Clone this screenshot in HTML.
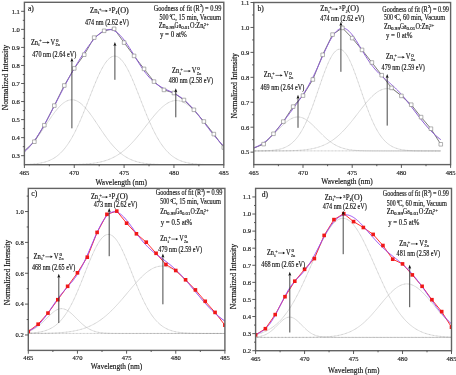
<!DOCTYPE html>
<html><head><meta charset="utf-8"><style>
html,body{margin:0;padding:0;background:#fff;}
svg{display:block;will-change:transform;}
text{font-family:"Liberation Serif", serif;stroke:#111;stroke-width:0.15px;}
</style></head><body>
<svg width="456" height="375" viewBox="0 0 456 375">
<rect width="456" height="375" fill="#fff"/>
<clipPath id="ca"><rect x="24.4" y="2.3" width="199.4" height="162.39999999999998"/></clipPath>
<g clip-path="url(#ca)" fill="none" stroke="#8c8c8c" stroke-width="0.5" stroke-dasharray="0.9,0.5"><path d="M24.40,152.07 L25.40,151.18 L26.39,150.25 L27.39,149.28 L28.39,148.26 L29.39,147.21 L30.38,146.11 L31.38,144.97 L32.38,143.79 L33.37,142.58 L34.37,141.32 L35.37,140.04 L36.36,138.71 L37.36,137.36 L38.36,135.98 L39.36,134.57 L40.35,133.14 L41.35,131.69 L42.35,130.22 L43.34,128.74 L44.34,127.25 L45.34,125.76 L46.33,124.26 L47.33,122.77 L48.33,121.28 L49.33,119.81 L50.32,118.35 L51.32,116.92 L52.32,115.51 L53.31,114.13 L54.31,112.79 L55.31,111.49 L56.30,110.24 L57.30,109.04 L58.30,107.90 L59.30,106.81 L60.29,105.79 L61.29,104.84 L62.29,103.96 L63.28,103.16 L64.28,102.43 L65.28,101.79 L66.27,101.24 L67.27,100.77 L68.27,100.39 L69.27,100.10 L70.26,99.91 L71.26,99.80 L72.26,99.80 L73.25,99.88 L74.25,100.06 L75.25,100.33 L76.24,100.69 L77.24,101.15 L78.24,101.69 L79.24,102.32 L80.23,103.03 L81.23,103.81 L82.23,104.68 L83.22,105.62 L84.22,106.63 L85.22,107.70 L86.21,108.84 L87.21,110.03 L88.21,111.27 L89.21,112.56 L90.20,113.90 L91.20,115.27 L92.20,116.67 L93.19,118.10 L94.19,119.55 L95.19,121.02 L96.18,122.51 L97.18,124.00 L98.18,125.50 L99.18,126.99 L100.17,128.49 L101.17,129.97 L102.17,131.44 L103.16,132.89 L104.16,134.33 L105.16,135.74 L106.15,137.12 L107.15,138.48 L108.15,139.81 L109.15,141.10 L110.14,142.36 L111.14,143.58 L112.14,144.77 L113.13,145.91 L114.13,147.02 L115.13,148.08 L116.12,149.10 L117.12,150.09 L118.12,151.02 L119.12,151.92 L120.11,152.78 L121.11,153.59 L122.11,154.37 L123.10,155.10 L124.10,155.79 L125.10,156.45 L126.09,157.07 L127.09,157.65 L128.09,158.20 L129.09,158.71 L130.08,159.19 L131.08,159.64 L132.08,160.06 L133.07,160.46 L134.07,160.82 L135.07,161.16 L136.06,161.47 L137.06,161.76 L138.06,162.03 L139.06,162.28 L140.05,162.50 L141.05,162.71 L142.05,162.90 L143.04,163.08 L144.04,163.24 L145.04,163.39 L146.03,163.52 L147.03,163.64 L148.03,163.75 L149.03,163.85 L150.02,163.94 L151.02,164.03 L152.02,164.10 L153.01,164.17 L154.01,164.23 L155.01,164.28 L156.00,164.33 L157.00,164.37 L158.00,164.41 L159.00,164.45 L159.99,164.48 L160.99,164.51 L161.99,164.53 L162.98,164.55 L163.98,164.57 L164.98,164.59 L165.97,164.60 L166.97,164.62 L167.97,164.63 L168.97,164.64 L169.96,164.65 L170.96,164.66 L171.96,164.66 L172.95,164.67 L173.95,164.67 L174.95,164.68 L175.94,164.68 L176.94,164.69 L177.94,164.69 L178.94,164.69 L179.93,164.69 L180.93,164.70 L181.93,164.70 L182.92,164.70 L183.92,164.70 L184.92,164.70 L185.91,164.70 L186.91,164.70 L187.91,164.70 L188.91,164.70 L189.90,164.70 L190.90,164.70 L191.90,164.71 L192.89,164.71 L193.89,164.71 L194.89,164.71 L195.88,164.71 L196.88,164.71 L197.88,164.71 L198.88,164.71 L199.87,164.71 L200.87,164.71 L201.87,164.71 L202.86,164.71 L203.86,164.71 L204.86,164.71 L205.85,164.71 L206.85,164.71 L207.85,164.71 L208.85,164.71 L209.84,164.71 L210.84,164.71 L211.84,164.71 L212.83,164.71 L213.83,164.71 L214.83,164.71 L215.82,164.71 L216.82,164.71 L217.82,164.71 L218.82,164.71 L219.81,164.71 L220.81,164.71 L221.81,164.71 L222.80,164.71 L223.80,164.71"/><path d="M24.40,164.49 L25.40,164.46 L26.39,164.42 L27.39,164.38 L28.39,164.33 L29.39,164.28 L30.38,164.22 L31.38,164.15 L32.38,164.08 L33.37,164.00 L34.37,163.90 L35.37,163.80 L36.36,163.69 L37.36,163.56 L38.36,163.42 L39.36,163.26 L40.35,163.08 L41.35,162.89 L42.35,162.68 L43.34,162.45 L44.34,162.19 L45.34,161.91 L46.33,161.60 L47.33,161.26 L48.33,160.89 L49.33,160.49 L50.32,160.06 L51.32,159.58 L52.32,159.07 L53.31,158.52 L54.31,157.92 L55.31,157.27 L56.30,156.58 L57.30,155.83 L58.30,155.03 L59.30,154.17 L60.29,153.26 L61.29,152.28 L62.29,151.24 L63.28,150.14 L64.28,148.97 L65.28,147.73 L66.27,146.42 L67.27,145.05 L68.27,143.59 L69.27,142.07 L70.26,140.47 L71.26,138.80 L72.26,137.06 L73.25,135.24 L74.25,133.36 L75.25,131.40 L76.24,129.37 L77.24,127.28 L78.24,125.12 L79.24,122.90 L80.23,120.62 L81.23,118.29 L82.23,115.91 L83.22,113.49 L84.22,111.03 L85.22,108.53 L86.21,106.01 L87.21,103.47 L88.21,100.91 L89.21,98.35 L90.20,95.79 L91.20,93.23 L92.20,90.70 L93.19,88.19 L94.19,85.72 L95.19,83.29 L96.18,80.91 L97.18,78.59 L98.18,76.35 L99.18,74.18 L100.17,72.10 L101.17,70.11 L102.17,68.23 L103.16,66.46 L104.16,64.81 L105.16,63.28 L106.15,61.89 L107.15,60.64 L108.15,59.53 L109.15,58.57 L110.14,57.76 L111.14,57.11 L112.14,56.62 L113.13,56.29 L114.13,56.12 L115.13,56.12 L116.12,56.29 L117.12,56.62 L118.12,57.11 L119.12,57.75 L120.11,58.56 L121.11,59.52 L122.11,60.63 L123.10,61.88 L124.10,63.27 L125.10,64.80 L126.09,66.45 L127.09,68.22 L128.09,70.10 L129.09,72.08 L130.08,74.16 L131.08,76.33 L132.08,78.58 L133.07,80.89 L134.07,83.27 L135.07,85.70 L136.06,88.17 L137.06,90.68 L138.06,93.22 L139.06,95.77 L140.05,98.33 L141.05,100.89 L142.05,103.45 L143.04,105.99 L144.04,108.52 L145.04,111.01 L146.03,113.47 L147.03,115.90 L148.03,118.28 L149.03,120.61 L150.02,122.88 L151.02,125.10 L152.02,127.26 L153.01,129.36 L154.01,131.38 L155.01,133.34 L156.00,135.23 L157.00,137.05 L158.00,138.79 L159.00,140.46 L159.99,142.06 L160.99,143.58 L161.99,145.04 L162.98,146.41 L163.98,147.72 L164.98,148.96 L165.97,150.13 L166.97,151.24 L167.97,152.28 L168.97,153.25 L169.96,154.17 L170.96,155.02 L171.96,155.83 L172.95,156.57 L173.95,157.27 L174.95,157.91 L175.94,158.51 L176.94,159.07 L177.94,159.58 L178.94,160.06 L179.93,160.49 L180.93,160.89 L181.93,161.26 L182.92,161.60 L183.92,161.91 L184.92,162.19 L185.91,162.44 L186.91,162.68 L187.91,162.89 L188.91,163.08 L189.90,163.26 L190.90,163.42 L191.90,163.56 L192.89,163.69 L193.89,163.80 L194.89,163.90 L195.88,164.00 L196.88,164.08 L197.88,164.15 L198.88,164.22 L199.87,164.28 L200.87,164.33 L201.87,164.38 L202.86,164.42 L203.86,164.46 L204.86,164.49 L205.85,164.52 L206.85,164.54 L207.85,164.56 L208.85,164.58 L209.84,164.60 L210.84,164.61 L211.84,164.63 L212.83,164.64 L213.83,164.65 L214.83,164.66 L215.82,164.66 L216.82,164.67 L217.82,164.67 L218.82,164.68 L219.81,164.68 L220.81,164.69 L221.81,164.69 L222.80,164.69 L223.80,164.69"/><path d="M24.40,164.71 L25.40,164.71 L26.39,164.71 L27.39,164.71 L28.39,164.71 L29.39,164.71 L30.38,164.71 L31.38,164.71 L32.38,164.71 L33.37,164.71 L34.37,164.71 L35.37,164.71 L36.36,164.71 L37.36,164.71 L38.36,164.71 L39.36,164.70 L40.35,164.70 L41.35,164.70 L42.35,164.70 L43.34,164.70 L44.34,164.70 L45.34,164.70 L46.33,164.70 L47.33,164.70 L48.33,164.70 L49.33,164.70 L50.32,164.70 L51.32,164.70 L52.32,164.69 L53.31,164.69 L54.31,164.69 L55.31,164.69 L56.30,164.68 L57.30,164.68 L58.30,164.68 L59.30,164.67 L60.29,164.67 L61.29,164.66 L62.29,164.66 L63.28,164.65 L64.28,164.64 L65.28,164.63 L66.27,164.62 L67.27,164.61 L68.27,164.60 L69.27,164.59 L70.26,164.57 L71.26,164.56 L72.26,164.54 L73.25,164.52 L74.25,164.50 L75.25,164.47 L76.24,164.45 L77.24,164.42 L78.24,164.38 L79.24,164.35 L80.23,164.30 L81.23,164.26 L82.23,164.21 L83.22,164.16 L84.22,164.10 L85.22,164.04 L86.21,163.96 L87.21,163.89 L88.21,163.80 L89.21,163.71 L90.20,163.62 L91.20,163.51 L92.20,163.39 L93.19,163.27 L94.19,163.13 L95.19,162.98 L96.18,162.82 L97.18,162.65 L98.18,162.46 L99.18,162.27 L100.17,162.05 L101.17,161.82 L102.17,161.58 L103.16,161.31 L104.16,161.03 L105.16,160.73 L106.15,160.41 L107.15,160.07 L108.15,159.71 L109.15,159.32 L110.14,158.91 L111.14,158.48 L112.14,158.03 L113.13,157.54 L114.13,157.03 L115.13,156.50 L116.12,155.93 L117.12,155.34 L118.12,154.72 L119.12,154.07 L120.11,153.38 L121.11,152.67 L122.11,151.93 L123.10,151.15 L124.10,150.35 L125.10,149.51 L126.09,148.64 L127.09,147.74 L128.09,146.81 L129.09,145.85 L130.08,144.86 L131.08,143.84 L132.08,142.79 L133.07,141.72 L134.07,140.61 L135.07,139.49 L136.06,138.34 L137.06,137.16 L138.06,135.97 L139.06,134.75 L140.05,133.52 L141.05,132.28 L142.05,131.02 L143.04,129.75 L144.04,128.47 L145.04,127.19 L146.03,125.90 L147.03,124.62 L148.03,123.33 L149.03,122.05 L150.02,120.78 L151.02,119.53 L152.02,118.28 L153.01,117.06 L154.01,115.85 L155.01,114.67 L156.00,113.52 L157.00,112.40 L158.00,111.31 L159.00,110.26 L159.99,109.24 L160.99,108.28 L161.99,107.35 L162.98,106.48 L163.98,105.66 L164.98,104.89 L165.97,104.17 L166.97,103.52 L167.97,102.92 L168.97,102.39 L169.96,101.92 L170.96,101.52 L171.96,101.19 L172.95,100.92 L173.95,100.72 L174.95,100.59 L175.94,100.53 L176.94,100.54 L177.94,100.62 L178.94,100.77 L179.93,100.99 L180.93,101.28 L181.93,101.64 L182.92,102.06 L183.92,102.55 L184.92,103.10 L185.91,103.71 L186.91,104.39 L187.91,105.12 L188.91,105.90 L189.90,106.74 L190.90,107.63 L191.90,108.57 L192.89,109.55 L193.89,110.58 L194.89,111.64 L195.88,112.74 L196.88,113.87 L197.88,115.03 L198.88,116.22 L199.87,117.43 L200.87,118.67 L201.87,119.91 L202.86,121.18 L203.86,122.45 L204.86,123.73 L205.85,125.01 L206.85,126.30 L207.85,127.59 L208.85,128.87 L209.84,130.14 L210.84,131.41 L211.84,132.67 L212.83,133.91 L213.83,135.13 L214.83,136.34 L215.82,137.53 L216.82,138.69 L217.82,139.84 L218.82,140.96 L219.81,142.05 L220.81,143.12 L221.81,144.16 L222.80,145.17 L223.80,146.15"/></g>
<g clip-path="url(#ca)" fill="none" stroke-linejoin="round">
<path d="M24.40,150.90 L34.37,141.70 L44.34,125.20 L54.31,105.60 L64.28,85.50 L74.25,68.40 L84.22,54.70 L94.19,37.60 L104.16,30.80 L114.13,28.80 L124.10,42.60 L134.07,55.90 L144.04,68.90 L154.01,81.60 L163.98,89.90 L173.95,93.00 L183.92,100.00 L193.89,109.80 L203.86,121.50 L213.83,134.10 L223.80,147.50" stroke="#444" stroke-width="0.7"/>
<path d="M24.40,151.85 L25.40,150.93 L26.39,149.96 L27.39,148.95 L28.39,147.89 L29.39,146.78 L30.38,145.62 L31.38,144.42 L32.38,143.16 L33.37,141.87 L34.37,140.52 L35.37,139.13 L36.36,137.69 L37.36,136.21 L38.36,134.69 L39.36,133.12 L40.35,131.52 L41.35,129.87 L42.35,128.19 L43.34,126.48 L44.34,124.73 L45.34,122.95 L46.33,121.15 L47.33,119.32 L48.33,117.46 L49.33,115.59 L50.32,113.69 L51.32,111.78 L52.32,109.86 L53.31,107.93 L54.31,105.99 L55.31,104.04 L56.30,102.09 L57.30,100.14 L58.30,98.19 L59.30,96.24 L60.29,94.30 L61.29,92.37 L62.29,90.45 L63.28,88.53 L64.28,86.63 L65.28,84.74 L66.27,82.87 L67.27,81.01 L68.27,79.17 L69.27,77.35 L70.26,75.54 L71.26,73.75 L72.26,71.98 L73.25,70.23 L74.25,68.50 L75.25,66.79 L76.24,65.10 L77.24,63.43 L78.24,61.78 L79.24,60.15 L80.23,58.54 L81.23,56.95 L82.23,55.39 L83.22,53.86 L84.22,52.34 L85.22,50.86 L86.21,49.40 L87.21,47.97 L88.21,46.57 L89.21,45.21 L90.20,43.88 L91.20,42.59 L92.20,41.35 L93.19,40.14 L94.19,38.99 L95.19,37.88 L96.18,36.83 L97.18,35.83 L98.18,34.90 L99.18,34.02 L100.17,33.22 L101.17,32.49 L102.17,31.83 L103.16,31.25 L104.16,30.75 L105.16,30.34 L106.15,30.01 L107.15,29.78 L108.15,29.63 L109.15,29.58 L110.14,29.62 L111.14,29.76 L112.14,30.00 L113.13,30.33 L114.13,30.76 L115.13,31.29 L116.12,31.91 L117.12,32.63 L118.12,33.43 L119.12,34.33 L120.11,35.31 L121.11,36.37 L122.11,37.51 L123.10,38.72 L124.10,40.00 L125.10,41.34 L126.09,42.75 L127.09,44.20 L128.09,45.70 L129.09,47.23 L130.08,48.81 L131.08,50.40 L132.08,52.02 L133.07,53.65 L134.07,55.29 L135.07,56.93 L136.06,58.57 L137.06,60.19 L138.06,61.80 L139.06,63.38 L140.05,64.94 L141.05,66.47 L142.05,67.96 L143.04,69.41 L144.04,70.81 L145.04,72.17 L146.03,73.48 L147.03,74.74 L148.03,75.95 L149.03,77.10 L150.02,78.20 L151.02,79.24 L152.02,80.23 L153.01,81.17 L154.01,82.05 L155.01,82.88 L156.00,83.67 L157.00,84.40 L158.00,85.10 L159.00,85.75 L159.99,86.37 L160.99,86.95 L161.99,87.51 L162.98,88.03 L163.98,88.54 L164.98,89.02 L165.97,89.49 L166.97,89.96 L167.97,90.41 L168.97,90.87 L169.96,91.32 L170.96,91.79 L171.96,92.26 L172.95,92.75 L173.95,93.25 L174.95,93.77 L175.94,94.31 L176.94,94.88 L177.94,95.48 L178.94,96.11 L179.93,96.76 L180.93,97.46 L181.93,98.18 L182.92,98.94 L183.92,99.74 L184.92,100.58 L185.91,101.45 L186.91,102.35 L187.91,103.30 L188.91,104.28 L189.90,105.29 L190.90,106.34 L191.90,107.42 L192.89,108.53 L193.89,109.67 L194.89,110.84 L195.88,112.03 L196.88,113.24 L197.88,114.48 L198.88,115.73 L199.87,117.01 L200.87,118.29 L201.87,119.58 L202.86,120.89 L203.86,122.20 L204.86,123.51 L205.85,124.82 L206.85,126.13 L207.85,127.44 L208.85,128.74 L209.84,130.03 L210.84,131.32 L211.84,132.58 L212.83,133.84 L213.83,135.07 L214.83,136.29 L215.82,137.48 L216.82,138.66 L217.82,139.81 L218.82,140.93 L219.81,142.03 L220.81,143.10 L221.81,144.14 L222.80,145.16 L223.80,146.14" stroke="#8f5ed8" stroke-width="1.0"/>
<rect x="32.57" y="139.90" width="3.6" height="3.6" fill="#fff" stroke="#808080" stroke-width="0.6"/>
<rect x="42.54" y="123.40" width="3.6" height="3.6" fill="#fff" stroke="#808080" stroke-width="0.6"/>
<rect x="52.51" y="103.80" width="3.6" height="3.6" fill="#fff" stroke="#808080" stroke-width="0.6"/>
<rect x="62.48" y="83.70" width="3.6" height="3.6" fill="#fff" stroke="#808080" stroke-width="0.6"/>
<rect x="72.45" y="66.60" width="3.6" height="3.6" fill="#fff" stroke="#808080" stroke-width="0.6"/>
<rect x="82.42" y="52.90" width="3.6" height="3.6" fill="#fff" stroke="#808080" stroke-width="0.6"/>
<rect x="92.39" y="35.80" width="3.6" height="3.6" fill="#fff" stroke="#808080" stroke-width="0.6"/>
<rect x="102.36" y="29.00" width="3.6" height="3.6" fill="#fff" stroke="#808080" stroke-width="0.6"/>
<rect x="112.33" y="27.00" width="3.6" height="3.6" fill="#fff" stroke="#808080" stroke-width="0.6"/>
<rect x="122.30" y="40.80" width="3.6" height="3.6" fill="#fff" stroke="#808080" stroke-width="0.6"/>
<rect x="132.27" y="54.10" width="3.6" height="3.6" fill="#fff" stroke="#808080" stroke-width="0.6"/>
<rect x="142.24" y="67.10" width="3.6" height="3.6" fill="#fff" stroke="#808080" stroke-width="0.6"/>
<rect x="152.21" y="79.80" width="3.6" height="3.6" fill="#fff" stroke="#808080" stroke-width="0.6"/>
<rect x="162.18" y="88.10" width="3.6" height="3.6" fill="#fff" stroke="#808080" stroke-width="0.6"/>
<rect x="172.15" y="91.20" width="3.6" height="3.6" fill="#fff" stroke="#808080" stroke-width="0.6"/>
<rect x="182.12" y="98.20" width="3.6" height="3.6" fill="#fff" stroke="#808080" stroke-width="0.6"/>
<rect x="192.09" y="108.00" width="3.6" height="3.6" fill="#fff" stroke="#808080" stroke-width="0.6"/>
<rect x="202.06" y="119.70" width="3.6" height="3.6" fill="#fff" stroke="#808080" stroke-width="0.6"/>
<rect x="212.03" y="132.30" width="3.6" height="3.6" fill="#fff" stroke="#808080" stroke-width="0.6"/>
<rect x="222.00" y="145.70" width="3.6" height="3.6" fill="#fff" stroke="#808080" stroke-width="0.6"/>
</g>
<path d="M71.90,128.30 L71.90,60.70" stroke="#333" stroke-width="0.9"/>
<path d="M70.40,61.70 L71.90,57.70 L73.40,61.70 L71.90,61.00 Z" fill="#111"/>
<path d="M114.90,79.80 L114.90,45.00" stroke="#333" stroke-width="0.9"/>
<path d="M113.40,46.00 L114.90,42.00 L116.40,46.00 L114.90,45.30 Z" fill="#111"/>
<path d="M175.80,117.30 L175.80,91.20" stroke="#333" stroke-width="0.9"/>
<path d="M174.30,92.20 L175.80,88.20 L177.30,92.20 L175.80,91.50 Z" fill="#111"/>
<rect x="24.4" y="2.3" width="199.4" height="162.39999999999998" fill="none" stroke="#636363" stroke-width="1.4"/>
<path d="M21.10,155.68 L24.40,155.68 M21.10,137.63 L24.40,137.63 M21.10,119.59 L24.40,119.59 M21.10,101.54 L24.40,101.54 M21.10,83.50 L24.40,83.50 M21.10,65.46 L24.40,65.46 M21.10,47.41 L24.40,47.41 M21.10,29.37 L24.40,29.37 M21.10,11.32 L24.40,11.32 M22.80,146.66 L24.40,146.66 M22.80,128.61 L24.40,128.61 M22.80,110.57 L24.40,110.57 M22.80,92.52 L24.40,92.52 M22.80,74.48 L24.40,74.48 M22.80,56.43 L24.40,56.43 M22.80,38.39 L24.40,38.39 M22.80,20.34 L24.40,20.34 M24.40,164.70 L24.40,168.00 M74.25,164.70 L74.25,168.00 M124.10,164.70 L124.10,168.00 M173.95,164.70 L173.95,168.00 M223.80,164.70 L223.80,168.00 M49.33,164.70 L49.33,166.30 M99.18,164.70 L99.18,166.30 M149.03,164.70 L149.03,166.30 M198.88,164.70 L198.88,166.30" stroke="#4a4a4a" stroke-width="0.9" fill="none"/>
<text x="19.9" y="158.0" font-size="6.6" text-anchor="end" fill="#222">0.3</text>
<text x="19.9" y="139.9" font-size="6.6" text-anchor="end" fill="#222">0.4</text>
<text x="19.9" y="121.9" font-size="6.6" text-anchor="end" fill="#222">0.5</text>
<text x="19.9" y="103.8" font-size="6.6" text-anchor="end" fill="#222">0.6</text>
<text x="19.9" y="85.8" font-size="6.6" text-anchor="end" fill="#222">0.7</text>
<text x="19.9" y="67.8" font-size="6.6" text-anchor="end" fill="#222">0.8</text>
<text x="19.9" y="49.7" font-size="6.6" text-anchor="end" fill="#222">0.9</text>
<text x="19.9" y="31.7" font-size="6.6" text-anchor="end" fill="#222">1.0</text>
<text x="19.9" y="13.6" font-size="6.6" text-anchor="end" fill="#222">1.1</text>
<text x="24.4" y="174.6" font-size="6.6" text-anchor="middle" fill="#222">465</text>
<text x="74.2" y="174.6" font-size="6.6" text-anchor="middle" fill="#222">470</text>
<text x="124.1" y="174.6" font-size="6.6" text-anchor="middle" fill="#222">475</text>
<text x="174.0" y="174.6" font-size="6.6" text-anchor="middle" fill="#222">480</text>
<text x="223.8" y="174.6" font-size="6.6" text-anchor="middle" fill="#222">485</text>
<text x="121.2" y="184.8" font-size="8.2" text-anchor="middle" fill="#111" textLength="51.5" lengthAdjust="spacingAndGlyphs">Wavelength (nm)</text>
<text transform="translate(8.2,77.5) rotate(-90)" font-size="8.2" text-anchor="middle" fill="#111" textLength="65.5" lengthAdjust="spacingAndGlyphs">Normalized Intensity</text>
<text x="27.9" y="10.8" font-size="7.6" fill="#111">a)</text>
<text x="90.00" y="12.90" font-size="7.3" fill="#111" text-anchor="start" textLength="7.52" lengthAdjust="spacingAndGlyphs">Zn</text><text x="97.92" y="14.40" font-size="5.0" fill="#111" text-anchor="start">i</text><text x="98.74" y="10.70" font-size="5.0" fill="#111" text-anchor="start">+</text><path d="M101.17,10.90 L106.28,10.90" stroke="#111" stroke-width="0.6"/><path d="M105.68,9.70 L107.88,10.90 L105.68,12.10 Z" fill="#111"/><text x="108.69" y="10.70" font-size="5.0" fill="#111" text-anchor="start">3</text><text x="111.53" y="12.90" font-size="7.3" fill="#111" text-anchor="start" textLength="4.06" lengthAdjust="spacingAndGlyphs">P</text><text x="115.49" y="14.40" font-size="5.0" fill="#111" text-anchor="start">J</text><text x="117.42" y="12.90" font-size="7.3" fill="#111" text-anchor="start" textLength="11.38" lengthAdjust="spacingAndGlyphs">(O)</text>
<text x="84.90" y="24.70" font-size="7.3" fill="#111" text-anchor="start" textLength="43.90" lengthAdjust="spacingAndGlyphs">474 nm (2.62 eV)</text>
<text x="30.90" y="44.50" font-size="7.3" fill="#111" text-anchor="start" textLength="7.14" lengthAdjust="spacingAndGlyphs">Zn</text><text x="38.29" y="46.00" font-size="5.0" fill="#111" text-anchor="start">i</text><text x="39.11" y="42.30" font-size="5.0" fill="#111" text-anchor="start">+</text><path d="M42.37,42.50 L47.90,42.50" stroke="#111" stroke-width="0.6"/><path d="M47.30,41.30 L49.50,42.50 L47.30,43.70 Z" fill="#111"/><text x="50.52" y="44.50" font-size="7.3" fill="#111" text-anchor="start" textLength="4.69" lengthAdjust="spacingAndGlyphs">V</text><text x="55.41" y="46.00" font-size="5.0" fill="#111" text-anchor="start" textLength="4.49" lengthAdjust="spacingAndGlyphs">Zn</text><text x="55.92" y="41.80" font-size="5.0" fill="#111" text-anchor="start">0</text>
<text x="32.20" y="56.70" font-size="7.3" fill="#111" text-anchor="start" textLength="44.10" lengthAdjust="spacingAndGlyphs">470 nm (2.64 eV)</text>
<text x="172.10" y="73.10" font-size="7.3" fill="#111" text-anchor="start" textLength="7.18" lengthAdjust="spacingAndGlyphs">Zn</text><text x="179.54" y="74.60" font-size="5.0" fill="#111" text-anchor="start">i</text><text x="180.36" y="70.90" font-size="5.0" fill="#111" text-anchor="start">+</text><path d="M183.65,71.10 L189.23,71.10" stroke="#111" stroke-width="0.6"/><path d="M188.63,69.90 L190.83,71.10 L188.63,72.30 Z" fill="#111"/><text x="191.86" y="73.10" font-size="7.3" fill="#111" text-anchor="start" textLength="4.72" lengthAdjust="spacingAndGlyphs">V</text><text x="196.78" y="74.60" font-size="5.0" fill="#111" text-anchor="start" textLength="4.52" lengthAdjust="spacingAndGlyphs">Zn</text><text x="197.30" y="70.40" font-size="5.0" fill="#111" text-anchor="start">0</text>
<text x="168.80" y="82.90" font-size="7.3" fill="#111" text-anchor="start" textLength="44.20" lengthAdjust="spacingAndGlyphs">480 nm (2.58 eV)</text>
<text x="153.80" y="10.60" font-size="7.5" fill="#111" text-anchor="start" textLength="45.85" lengthAdjust="spacingAndGlyphs">Goodness of fit (R</text><text x="199.75" y="7.30" font-size="5.0" fill="#111" text-anchor="start">2</text><text x="201.38" y="10.60" font-size="7.5" fill="#111" text-anchor="start" textLength="19.92" lengthAdjust="spacingAndGlyphs">) = 0.99</text>
<text x="159.40" y="19.70" font-size="7.5" fill="#111" text-anchor="start" textLength="9.01" lengthAdjust="spacingAndGlyphs">500</text><text x="169.62" y="19.10" font-size="6.0" fill="#111" text-anchor="start">°</text><text x="171.02" y="19.70" font-size="7.5" fill="#111" text-anchor="start" textLength="49.98" lengthAdjust="spacingAndGlyphs">C, 15 min, Vacuum</text>
<text x="158.70" y="27.60" font-size="7.3" fill="#111" text-anchor="start" textLength="7.06" lengthAdjust="spacingAndGlyphs">Zn</text><text x="165.76" y="28.90" font-size="5.0" fill="#111" text-anchor="start" textLength="8.85" lengthAdjust="spacingAndGlyphs">0.99</text><text x="174.61" y="27.60" font-size="7.3" fill="#111" text-anchor="start" textLength="6.56" lengthAdjust="spacingAndGlyphs">Ga</text><text x="181.17" y="28.90" font-size="5.0" fill="#111" text-anchor="start" textLength="8.65" lengthAdjust="spacingAndGlyphs">0.01</text><text x="190.12" y="27.60" font-size="7.3" fill="#111" text-anchor="start" textLength="13.22" lengthAdjust="spacingAndGlyphs">O:Zn</text><text x="203.34" y="28.90" font-size="5.0" fill="#111" text-anchor="start">i</text><text x="203.74" y="26.00" font-size="5.0" fill="#111" text-anchor="start" textLength="5.17" lengthAdjust="spacingAndGlyphs">2+</text>
<text x="159.90" y="37.20" font-size="7.5" fill="#111" text-anchor="start" textLength="26.90" lengthAdjust="spacingAndGlyphs">y = 0 at%</text>
<clipPath id="cb"><rect x="253.8" y="2.5" width="196.8" height="162.1"/></clipPath>
<g clip-path="url(#cb)" fill="none" stroke="#8c8c8c" stroke-width="0.5" stroke-dasharray="0.9,0.5"><path d="M253.80,147.86 L254.78,147.51 L255.77,147.14 L256.75,146.73 L257.74,146.29 L258.72,145.82 L259.70,145.31 L260.69,144.77 L261.67,144.20 L262.66,143.58 L263.64,142.93 L264.62,142.25 L265.61,141.53 L266.59,140.77 L267.58,139.98 L268.56,139.16 L269.54,138.30 L270.53,137.42 L271.51,136.50 L272.50,135.57 L273.48,134.61 L274.46,133.63 L275.45,132.64 L276.43,131.64 L277.42,130.63 L278.40,129.62 L279.38,128.62 L280.37,127.62 L281.35,126.64 L282.34,125.67 L283.32,124.73 L284.30,123.83 L285.29,122.95 L286.27,122.12 L287.26,121.33 L288.24,120.60 L289.22,119.92 L290.21,119.30 L291.19,118.75 L292.18,118.26 L293.16,117.85 L294.14,117.51 L295.13,117.25 L296.11,117.07 L297.10,116.97 L298.08,116.95 L299.06,117.01 L300.05,117.15 L301.03,117.37 L302.02,117.67 L303.00,118.05 L303.98,118.50 L304.97,119.02 L305.95,119.61 L306.94,120.26 L307.92,120.97 L308.90,121.73 L309.89,122.54 L310.87,123.39 L311.86,124.29 L312.84,125.21 L313.82,126.16 L314.81,127.14 L315.79,128.13 L316.78,129.13 L317.76,130.14 L318.74,131.15 L319.73,132.15 L320.71,133.15 L321.70,134.13 L322.68,135.10 L323.66,136.05 L324.65,136.97 L325.63,137.87 L326.62,138.74 L327.60,139.58 L328.58,140.39 L329.57,141.16 L330.55,141.90 L331.54,142.60 L332.52,143.27 L333.50,143.90 L334.49,144.49 L335.47,145.05 L336.46,145.58 L337.44,146.06 L338.42,146.52 L339.41,146.94 L340.39,147.33 L341.38,147.69 L342.36,148.02 L343.34,148.33 L344.33,148.61 L345.31,148.86 L346.30,149.09 L347.28,149.30 L348.26,149.49 L349.25,149.66 L350.23,149.82 L351.22,149.95 L352.20,150.08 L353.18,150.19 L354.17,150.29 L355.15,150.37 L356.14,150.45 L357.12,150.52 L358.10,150.58 L359.09,150.63 L360.07,150.68 L361.06,150.72 L362.04,150.75 L363.02,150.78 L364.01,150.81 L364.99,150.83 L365.98,150.85 L366.96,150.87 L367.94,150.88 L368.93,150.89 L369.91,150.90 L370.90,150.91 L371.88,150.92 L372.86,150.93 L373.85,150.93 L374.83,150.94 L375.82,150.94 L376.80,150.94 L377.78,150.95 L378.77,150.95 L379.75,150.95 L380.74,150.95 L381.72,150.95 L382.70,150.95 L383.69,150.96 L384.67,150.96 L385.66,150.96 L386.64,150.96 L387.62,150.96 L388.61,150.96 L389.59,150.96 L390.58,150.96 L391.56,150.96 L392.54,150.96 L393.53,150.96 L394.51,150.96 L395.50,150.96 L396.48,150.96 L397.46,150.96 L398.45,150.96 L399.43,150.96 L400.42,150.96 L401.40,150.96 L402.38,150.96 L403.37,150.96 L404.35,150.96 L405.34,150.96 L406.32,150.96 L407.30,150.96 L408.29,150.96 L409.27,150.96 L410.26,150.96 L411.24,150.96 L412.22,150.96 L413.21,150.96 L414.19,150.96 L415.18,150.96 L416.16,150.96 L417.14,150.96 L418.13,150.96 L419.11,150.96 L420.10,150.96 L421.08,150.96 L422.06,150.96 L423.05,150.96 L424.03,150.96 L425.02,150.96 L426.00,150.96 L426.98,150.96 L427.97,150.96 L428.95,150.96 L429.94,150.96 L430.92,150.96 L431.90,150.96 L432.89,150.96 L433.87,150.96 L434.86,150.96 L435.84,150.96 L436.82,150.96 L437.81,150.96 L438.79,150.96 L439.78,150.96 L440.76,150.96"/><path d="M253.80,150.93 L254.78,150.93 L255.77,150.92 L256.75,150.91 L257.74,150.91 L258.72,150.90 L259.70,150.88 L260.69,150.87 L261.67,150.85 L262.66,150.83 L263.64,150.81 L264.62,150.78 L265.61,150.75 L266.59,150.71 L267.58,150.67 L268.56,150.62 L269.54,150.56 L270.53,150.49 L271.51,150.41 L272.50,150.32 L273.48,150.22 L274.46,150.11 L275.45,149.98 L276.43,149.83 L277.42,149.66 L278.40,149.47 L279.38,149.25 L280.37,149.01 L281.35,148.74 L282.34,148.43 L283.32,148.10 L284.30,147.72 L285.29,147.30 L286.27,146.83 L287.26,146.32 L288.24,145.76 L289.22,145.13 L290.21,144.45 L291.19,143.70 L292.18,142.89 L293.16,142.00 L294.14,141.04 L295.13,140.00 L296.11,138.88 L297.10,137.67 L298.08,136.37 L299.06,134.98 L300.05,133.49 L301.03,131.91 L302.02,130.23 L303.00,128.45 L303.98,126.58 L304.97,124.60 L305.95,122.53 L306.94,120.36 L307.92,118.09 L308.90,115.74 L309.89,113.30 L310.87,110.77 L311.86,108.18 L312.84,105.51 L313.82,102.78 L314.81,100.01 L315.79,97.19 L316.78,94.33 L317.76,91.46 L318.74,88.57 L319.73,85.69 L320.71,82.83 L321.70,79.99 L322.68,77.20 L323.66,74.47 L324.65,71.81 L325.63,69.23 L326.62,66.76 L327.60,64.39 L328.58,62.16 L329.57,60.07 L330.55,58.13 L331.54,56.36 L332.52,54.77 L333.50,53.36 L334.49,52.15 L335.47,51.14 L336.46,50.34 L337.44,49.76 L338.42,49.39 L339.41,49.25 L340.39,49.33 L341.38,49.63 L342.36,50.15 L343.34,50.89 L344.33,51.83 L345.31,52.99 L346.30,54.34 L347.28,55.88 L348.26,57.60 L349.25,59.49 L350.23,61.54 L351.22,63.73 L352.20,66.06 L353.18,68.50 L354.17,71.05 L355.15,73.69 L356.14,76.40 L357.12,79.18 L358.10,82.00 L359.09,84.86 L360.07,87.74 L361.06,90.62 L362.04,93.50 L363.02,96.36 L364.01,99.19 L364.99,101.98 L365.98,104.73 L366.96,107.41 L367.94,110.03 L368.93,112.57 L369.91,115.04 L370.90,117.42 L371.88,119.71 L372.86,121.91 L373.85,124.01 L374.83,126.01 L375.82,127.92 L376.80,129.73 L377.78,131.43 L378.77,133.04 L379.75,134.56 L380.74,135.98 L381.72,137.30 L382.70,138.54 L383.69,139.68 L384.67,140.75 L385.66,141.73 L386.64,142.64 L387.62,143.48 L388.61,144.24 L389.59,144.94 L390.58,145.58 L391.56,146.16 L392.54,146.69 L393.53,147.17 L394.51,147.60 L395.50,147.99 L396.48,148.34 L397.46,148.65 L398.45,148.93 L399.43,149.18 L400.42,149.41 L401.40,149.61 L402.38,149.78 L403.37,149.94 L404.35,150.07 L405.34,150.19 L406.32,150.30 L407.30,150.39 L408.29,150.47 L409.27,150.54 L410.26,150.60 L411.24,150.65 L412.22,150.70 L413.21,150.74 L414.19,150.77 L415.18,150.80 L416.16,150.82 L417.14,150.85 L418.13,150.86 L419.11,150.88 L420.10,150.89 L421.08,150.90 L422.06,150.91 L423.05,150.92 L424.03,150.93 L425.02,150.93 L426.00,150.94 L426.98,150.94 L427.97,150.94 L428.95,150.95 L429.94,150.95 L430.92,150.95 L431.90,150.95 L432.89,150.95 L433.87,150.95 L434.86,150.96 L435.84,150.96 L436.82,150.96 L437.81,150.96 L438.79,150.96 L439.78,150.96 L440.76,150.96"/><path d="M253.80,150.96 L254.78,150.96 L255.77,150.96 L256.75,150.96 L257.74,150.96 L258.72,150.96 L259.70,150.95 L260.69,150.95 L261.67,150.95 L262.66,150.95 L263.64,150.95 L264.62,150.95 L265.61,150.95 L266.59,150.95 L267.58,150.95 L268.56,150.94 L269.54,150.94 L270.53,150.94 L271.51,150.94 L272.50,150.93 L273.48,150.93 L274.46,150.92 L275.45,150.92 L276.43,150.91 L277.42,150.91 L278.40,150.90 L279.38,150.89 L280.37,150.88 L281.35,150.87 L282.34,150.86 L283.32,150.85 L284.30,150.84 L285.29,150.82 L286.27,150.81 L287.26,150.79 L288.24,150.77 L289.22,150.74 L290.21,150.72 L291.19,150.69 L292.18,150.66 L293.16,150.62 L294.14,150.58 L295.13,150.54 L296.11,150.49 L297.10,150.44 L298.08,150.38 L299.06,150.32 L300.05,150.25 L301.03,150.18 L302.02,150.09 L303.00,150.00 L303.98,149.91 L304.97,149.80 L305.95,149.69 L306.94,149.56 L307.92,149.42 L308.90,149.28 L309.89,149.12 L310.87,148.95 L311.86,148.76 L312.84,148.56 L313.82,148.35 L314.81,148.12 L315.79,147.87 L316.78,147.60 L317.76,147.32 L318.74,147.02 L319.73,146.69 L320.71,146.35 L321.70,145.98 L322.68,145.59 L323.66,145.18 L324.65,144.74 L325.63,144.27 L326.62,143.78 L327.60,143.26 L328.58,142.72 L329.57,142.14 L330.55,141.54 L331.54,140.90 L332.52,140.24 L333.50,139.54 L334.49,138.81 L335.47,138.05 L336.46,137.26 L337.44,136.44 L338.42,135.59 L339.41,134.70 L340.39,133.78 L341.38,132.83 L342.36,131.86 L343.34,130.85 L344.33,129.81 L345.31,128.74 L346.30,127.65 L347.28,126.53 L348.26,125.39 L349.25,124.22 L350.23,123.04 L351.22,121.83 L352.20,120.61 L353.18,119.37 L354.17,118.12 L355.15,116.85 L356.14,115.58 L357.12,114.31 L358.10,113.03 L359.09,111.75 L360.07,110.48 L361.06,109.21 L362.04,107.95 L363.02,106.70 L364.01,105.47 L364.99,104.26 L365.98,103.08 L366.96,101.91 L367.94,100.78 L368.93,99.68 L369.91,98.61 L370.90,97.59 L371.88,96.61 L372.86,95.67 L373.85,94.78 L374.83,93.94 L375.82,93.15 L376.80,92.42 L377.78,91.75 L378.77,91.14 L379.75,90.59 L380.74,90.11 L381.72,89.69 L382.70,89.35 L383.69,89.07 L384.67,88.86 L385.66,88.72 L386.64,88.65 L387.62,88.65 L388.61,88.73 L389.59,88.87 L390.58,89.09 L391.56,89.37 L392.54,89.73 L393.53,90.15 L394.51,90.64 L395.50,91.19 L396.48,91.80 L397.46,92.48 L398.45,93.21 L399.43,94.00 L400.42,94.85 L401.40,95.74 L402.38,96.68 L403.37,97.67 L404.35,98.70 L405.34,99.77 L406.32,100.87 L407.30,102.01 L408.29,103.17 L409.27,104.36 L410.26,105.58 L411.24,106.81 L412.22,108.05 L413.21,109.31 L414.19,110.58 L415.18,111.86 L416.16,113.14 L417.14,114.41 L418.13,115.69 L419.11,116.96 L420.10,118.22 L421.08,119.47 L422.06,120.71 L423.05,121.93 L424.03,123.14 L425.02,124.32 L426.00,125.49 L426.98,126.63 L427.97,127.74 L428.95,128.83 L429.94,129.90 L430.92,130.93 L431.90,131.94 L432.89,132.91 L433.87,133.86 L434.86,134.77 L435.84,135.66 L436.82,136.51 L437.81,137.33 L438.79,138.12 L439.78,138.87 L440.76,139.60"/><path d="M253.80,150.88 L440.76,150.88"/></g>
<g clip-path="url(#cb)" fill="none" stroke-linejoin="round">
<path d="M253.80,148.10 L263.64,144.10 L273.48,133.80 L283.32,121.60 L293.16,106.60 L303.00,95.60 L312.84,79.50 L322.68,54.80 L332.52,34.60 L342.36,27.90 L352.20,38.10 L362.04,49.90 L371.88,62.50 L381.72,75.20 L391.56,87.90 L401.40,95.90 L411.24,104.70 L421.08,117.10 L430.92,128.70 L440.76,144.30" stroke="#444" stroke-width="0.7"/>
<path d="M253.80,147.83 L254.78,147.48 L255.77,147.10 L256.75,146.68 L257.74,146.24 L258.72,145.75 L259.70,145.23 L260.69,144.68 L261.67,144.08 L262.66,143.45 L263.64,142.77 L264.62,142.06 L265.61,141.31 L266.59,140.51 L267.58,139.67 L268.56,138.80 L269.54,137.88 L270.53,136.93 L271.51,135.93 L272.50,134.91 L273.48,133.84 L274.46,132.75 L275.45,131.62 L276.43,130.46 L277.42,129.28 L278.40,128.07 L279.38,126.85 L280.37,125.60 L281.35,124.33 L282.34,123.05 L283.32,121.76 L284.30,120.46 L285.29,119.16 L286.27,117.84 L287.26,116.52 L288.24,115.20 L289.22,113.88 L290.21,112.55 L291.19,111.22 L292.18,109.89 L293.16,108.55 L294.14,107.22 L295.13,105.87 L296.11,104.52 L297.10,103.16 L298.08,101.78 L299.06,100.39 L300.05,98.98 L301.03,97.54 L302.02,96.08 L303.00,94.59 L303.98,93.07 L304.97,91.50 L305.95,89.90 L306.94,88.26 L307.92,86.56 L308.90,84.82 L309.89,83.04 L310.87,81.20 L311.86,79.31 L312.84,77.37 L313.82,75.38 L314.81,73.34 L315.79,71.26 L316.78,69.15 L317.76,67.00 L318.74,64.82 L319.73,62.62 L320.71,60.41 L321.70,58.19 L322.68,55.97 L323.66,53.77 L324.65,51.60 L325.63,49.46 L326.62,47.36 L327.60,45.32 L328.58,43.35 L329.57,41.46 L330.55,39.65 L331.54,37.95 L332.52,36.36 L333.50,34.88 L334.49,33.54 L335.47,32.33 L336.46,31.26 L337.44,30.34 L338.42,29.58 L339.41,28.97 L340.39,28.52 L341.38,28.24 L342.36,28.11 L343.34,28.14 L344.33,28.33 L345.31,28.67 L346.30,29.17 L347.28,29.80 L348.26,30.57 L349.25,31.46 L350.23,32.48 L351.22,33.60 L352.20,34.82 L353.18,36.14 L354.17,37.53 L355.15,39.00 L356.14,40.52 L357.12,42.09 L358.10,43.69 L359.09,45.32 L360.07,46.97 L361.06,48.63 L362.04,50.28 L363.02,51.93 L364.01,53.55 L364.99,55.16 L365.98,56.73 L366.96,58.27 L367.94,59.77 L368.93,61.23 L369.91,62.64 L370.90,64.00 L371.88,65.32 L372.86,66.58 L373.85,67.80 L374.83,68.97 L375.82,70.09 L376.80,71.17 L377.78,72.21 L378.77,73.22 L379.75,74.18 L380.74,75.12 L381.72,76.03 L382.70,76.92 L383.69,77.79 L384.67,78.64 L385.66,79.49 L386.64,80.33 L387.62,81.17 L388.61,82.01 L389.59,82.85 L390.58,83.71 L391.56,84.57 L392.54,85.46 L393.53,86.36 L394.51,87.28 L395.50,88.22 L396.48,89.19 L397.46,90.17 L398.45,91.19 L399.43,92.23 L400.42,93.30 L401.40,94.39 L402.38,95.51 L403.37,96.65 L404.35,97.81 L405.34,99.00 L406.32,100.21 L407.30,101.44 L408.29,102.68 L409.27,103.94 L410.26,105.22 L411.24,106.50 L412.22,107.79 L413.21,109.09 L414.19,110.39 L415.18,111.70 L416.16,113.00 L417.14,114.30 L418.13,115.59 L419.11,116.88 L420.10,118.15 L421.08,119.42 L422.06,120.66 L423.05,121.89 L424.03,123.10 L425.02,124.29 L426.00,125.46 L426.98,126.61 L427.97,127.73 L428.95,128.82 L429.94,129.89 L430.92,130.92 L431.90,131.93 L432.89,132.91 L433.87,133.86 L434.86,134.77 L435.84,135.65 L436.82,136.51 L437.81,137.33 L438.79,138.12 L439.78,138.87 L440.76,139.60" stroke="#8f5ed8" stroke-width="1.0"/>
<rect x="261.84" y="142.30" width="3.6" height="3.6" fill="#fff" stroke="#808080" stroke-width="0.6"/>
<rect x="271.68" y="132.00" width="3.6" height="3.6" fill="#fff" stroke="#808080" stroke-width="0.6"/>
<rect x="281.52" y="119.80" width="3.6" height="3.6" fill="#fff" stroke="#808080" stroke-width="0.6"/>
<rect x="291.36" y="104.80" width="3.6" height="3.6" fill="#fff" stroke="#808080" stroke-width="0.6"/>
<rect x="301.20" y="93.80" width="3.6" height="3.6" fill="#fff" stroke="#808080" stroke-width="0.6"/>
<rect x="311.04" y="77.70" width="3.6" height="3.6" fill="#fff" stroke="#808080" stroke-width="0.6"/>
<rect x="320.88" y="53.00" width="3.6" height="3.6" fill="#fff" stroke="#808080" stroke-width="0.6"/>
<rect x="330.72" y="32.80" width="3.6" height="3.6" fill="#fff" stroke="#808080" stroke-width="0.6"/>
<rect x="340.56" y="26.10" width="3.6" height="3.6" fill="#fff" stroke="#808080" stroke-width="0.6"/>
<rect x="350.40" y="36.30" width="3.6" height="3.6" fill="#fff" stroke="#808080" stroke-width="0.6"/>
<rect x="360.24" y="48.10" width="3.6" height="3.6" fill="#fff" stroke="#808080" stroke-width="0.6"/>
<rect x="370.08" y="60.70" width="3.6" height="3.6" fill="#fff" stroke="#808080" stroke-width="0.6"/>
<rect x="379.92" y="73.40" width="3.6" height="3.6" fill="#fff" stroke="#808080" stroke-width="0.6"/>
<rect x="389.76" y="86.10" width="3.6" height="3.6" fill="#fff" stroke="#808080" stroke-width="0.6"/>
<rect x="399.60" y="94.10" width="3.6" height="3.6" fill="#fff" stroke="#808080" stroke-width="0.6"/>
<rect x="409.44" y="102.90" width="3.6" height="3.6" fill="#fff" stroke="#808080" stroke-width="0.6"/>
<rect x="419.28" y="115.30" width="3.6" height="3.6" fill="#fff" stroke="#808080" stroke-width="0.6"/>
<rect x="429.12" y="126.90" width="3.6" height="3.6" fill="#fff" stroke="#808080" stroke-width="0.6"/>
<rect x="438.96" y="142.50" width="3.6" height="3.6" fill="#fff" stroke="#808080" stroke-width="0.6"/>
</g>
<path d="M298.00,127.80 L298.00,97.70" stroke="#333" stroke-width="0.9"/>
<path d="M296.50,98.70 L298.00,94.70 L299.50,98.70 L298.00,98.00 Z" fill="#111"/>
<path d="M340.90,71.80 L340.90,24.80" stroke="#333" stroke-width="0.9"/>
<path d="M339.40,25.80 L340.90,21.80 L342.40,25.80 L340.90,25.10 Z" fill="#111"/>
<path d="M387.20,125.60 L387.20,76.90" stroke="#333" stroke-width="0.9"/>
<path d="M385.70,77.90 L387.20,73.90 L388.70,77.90 L387.20,77.20 Z" fill="#111"/>
<rect x="253.8" y="2.5" width="196.8" height="162.1" fill="none" stroke="#636363" stroke-width="1.4"/>
<path d="M250.50,152.13 L253.80,152.13 M250.50,127.19 L253.80,127.19 M250.50,102.25 L253.80,102.25 M250.50,77.32 L253.80,77.32 M250.50,52.38 L253.80,52.38 M250.50,27.44 L253.80,27.44 M250.50,2.50 L253.80,2.50 M252.20,139.66 L253.80,139.66 M252.20,114.72 L253.80,114.72 M252.20,89.78 L253.80,89.78 M252.20,64.85 L253.80,64.85 M252.20,39.91 L253.80,39.91 M252.20,14.97 L253.80,14.97 M253.80,164.60 L253.80,167.90 M303.00,164.60 L303.00,167.90 M352.20,164.60 L352.20,167.90 M401.40,164.60 L401.40,167.90 M450.60,164.60 L450.60,167.90 M278.40,164.60 L278.40,166.20 M327.60,164.60 L327.60,166.20 M376.80,164.60 L376.80,166.20 M426.00,164.60 L426.00,166.20" stroke="#4a4a4a" stroke-width="0.9" fill="none"/>
<text x="249.3" y="154.4" font-size="6.6" text-anchor="end" fill="#222">0.5</text>
<text x="249.3" y="129.5" font-size="6.6" text-anchor="end" fill="#222">0.6</text>
<text x="249.3" y="104.6" font-size="6.6" text-anchor="end" fill="#222">0.7</text>
<text x="249.3" y="79.6" font-size="6.6" text-anchor="end" fill="#222">0.8</text>
<text x="249.3" y="54.7" font-size="6.6" text-anchor="end" fill="#222">0.9</text>
<text x="249.3" y="29.7" font-size="6.6" text-anchor="end" fill="#222">1.0</text>
<text x="249.3" y="4.8" font-size="6.6" text-anchor="end" fill="#222">1.1</text>
<text x="253.8" y="174.5" font-size="6.6" text-anchor="middle" fill="#222">465</text>
<text x="303.0" y="174.5" font-size="6.6" text-anchor="middle" fill="#222">470</text>
<text x="352.2" y="174.5" font-size="6.6" text-anchor="middle" fill="#222">475</text>
<text x="401.4" y="174.5" font-size="6.6" text-anchor="middle" fill="#222">480</text>
<text x="450.6" y="174.5" font-size="6.6" text-anchor="middle" fill="#222">485</text>
<text x="347.0" y="183.9" font-size="8.2" text-anchor="middle" fill="#111" textLength="51.5" lengthAdjust="spacingAndGlyphs">Wavelength (nm)</text>
<text transform="translate(236.9,85.8) rotate(-90)" font-size="8.2" text-anchor="middle" fill="#111" textLength="65.5" lengthAdjust="spacingAndGlyphs">Normalized Intensity</text>
<text x="257.5" y="11.2" font-size="7.6" fill="#111">b)</text>
<text x="320.30" y="11.10" font-size="7.3" fill="#111" text-anchor="start" textLength="7.48" lengthAdjust="spacingAndGlyphs">Zn</text><text x="328.18" y="12.60" font-size="5.0" fill="#111" text-anchor="start">i</text><text x="328.99" y="8.90" font-size="5.0" fill="#111" text-anchor="start">+</text><path d="M331.42,9.10 L336.48,9.10" stroke="#111" stroke-width="0.6"/><path d="M335.88,7.90 L338.08,9.10 L335.88,10.30 Z" fill="#111"/><text x="338.89" y="8.90" font-size="5.0" fill="#111" text-anchor="start">3</text><text x="341.72" y="11.10" font-size="7.3" fill="#111" text-anchor="start" textLength="4.04" lengthAdjust="spacingAndGlyphs">P</text><text x="345.66" y="12.60" font-size="5.0" fill="#111" text-anchor="start">J</text><text x="347.58" y="11.10" font-size="7.3" fill="#111" text-anchor="start" textLength="11.32" lengthAdjust="spacingAndGlyphs">(O)</text>
<text x="320.30" y="20.80" font-size="7.3" fill="#111" text-anchor="start" textLength="43.90" lengthAdjust="spacingAndGlyphs">474 nm (2.62 eV)</text>
<text x="263.80" y="77.40" font-size="7.3" fill="#111" text-anchor="start" textLength="7.23" lengthAdjust="spacingAndGlyphs">Zn</text><text x="271.29" y="78.90" font-size="5.0" fill="#111" text-anchor="start">i</text><text x="272.12" y="75.20" font-size="5.0" fill="#111" text-anchor="start">+</text><path d="M275.43,75.40 L281.06,75.40" stroke="#111" stroke-width="0.6"/><path d="M280.46,74.20 L282.66,75.40 L280.46,76.60 Z" fill="#111"/><text x="283.69" y="77.40" font-size="7.3" fill="#111" text-anchor="start" textLength="4.75" lengthAdjust="spacingAndGlyphs">V</text><text x="288.65" y="78.90" font-size="5.0" fill="#111" text-anchor="start" textLength="4.55" lengthAdjust="spacingAndGlyphs">Zn</text><text x="289.17" y="74.70" font-size="5.0" fill="#111" text-anchor="start">0</text>
<text x="260.40" y="89.60" font-size="7.3" fill="#111" text-anchor="start" textLength="43.80" lengthAdjust="spacingAndGlyphs">469 nm (2.64 eV)</text>
<text x="386.00" y="59.20" font-size="7.3" fill="#111" text-anchor="start" textLength="7.18" lengthAdjust="spacingAndGlyphs">Zn</text><text x="393.44" y="60.70" font-size="5.0" fill="#111" text-anchor="start">i</text><text x="394.26" y="57.00" font-size="5.0" fill="#111" text-anchor="start">+</text><path d="M397.55,57.20 L403.13,57.20" stroke="#111" stroke-width="0.6"/><path d="M402.53,56.00 L404.73,57.20 L402.53,58.40 Z" fill="#111"/><text x="405.76" y="59.20" font-size="7.3" fill="#111" text-anchor="start" textLength="4.72" lengthAdjust="spacingAndGlyphs">V</text><text x="410.68" y="60.70" font-size="5.0" fill="#111" text-anchor="start" textLength="4.52" lengthAdjust="spacingAndGlyphs">Zn</text><text x="411.20" y="56.50" font-size="5.0" fill="#111" text-anchor="start">0</text>
<text x="381.60" y="70.10" font-size="7.3" fill="#111" text-anchor="start" textLength="43.30" lengthAdjust="spacingAndGlyphs">479 nm (2.59 eV)</text>
<text x="382.30" y="11.70" font-size="7.5" fill="#111" text-anchor="start" textLength="45.24" lengthAdjust="spacingAndGlyphs">Goodness of fit (R</text><text x="427.64" y="8.40" font-size="5.0" fill="#111" text-anchor="start">2</text><text x="429.24" y="11.70" font-size="7.5" fill="#111" text-anchor="start" textLength="19.66" lengthAdjust="spacingAndGlyphs">) = 0.99</text>
<text x="384.00" y="20.10" font-size="7.5" fill="#111" text-anchor="start" textLength="8.97" lengthAdjust="spacingAndGlyphs">500</text><text x="394.17" y="19.50" font-size="6.0" fill="#111" text-anchor="start">°</text><text x="395.56" y="20.10" font-size="7.5" fill="#111" text-anchor="start" textLength="49.74" lengthAdjust="spacingAndGlyphs">C, 60 min, Vacuum</text>
<text x="384.00" y="28.50" font-size="7.3" fill="#111" text-anchor="start" textLength="7.07" lengthAdjust="spacingAndGlyphs">Zn</text><text x="391.07" y="29.80" font-size="5.0" fill="#111" text-anchor="start" textLength="8.87" lengthAdjust="spacingAndGlyphs">0.99</text><text x="399.94" y="28.50" font-size="7.3" fill="#111" text-anchor="start" textLength="6.57" lengthAdjust="spacingAndGlyphs">Ga</text><text x="406.51" y="29.80" font-size="5.0" fill="#111" text-anchor="start" textLength="8.67" lengthAdjust="spacingAndGlyphs">0.01</text><text x="415.48" y="28.50" font-size="7.3" fill="#111" text-anchor="start" textLength="13.25" lengthAdjust="spacingAndGlyphs">O:Zn</text><text x="428.73" y="29.80" font-size="5.0" fill="#111" text-anchor="start">i</text><text x="429.13" y="26.90" font-size="5.0" fill="#111" text-anchor="start" textLength="5.18" lengthAdjust="spacingAndGlyphs">2+</text>
<text x="386.00" y="38.40" font-size="7.5" fill="#111" text-anchor="start" textLength="26.40" lengthAdjust="spacingAndGlyphs">y = 0 at%</text>
<clipPath id="cc"><rect x="28.3" y="188.4" width="196.6" height="161.99999999999997"/></clipPath>
<g clip-path="url(#cc)" fill="none" stroke="#8c8c8c" stroke-width="0.5" stroke-dasharray="0.9,0.5"><path d="M28.30,331.40 L29.28,331.07 L30.27,330.71 L31.25,330.31 L32.23,329.86 L33.22,329.37 L34.20,328.83 L35.18,328.25 L36.16,327.62 L37.15,326.94 L38.13,326.21 L39.11,325.44 L40.10,324.62 L41.08,323.76 L42.06,322.87 L43.05,321.94 L44.03,320.99 L45.01,320.02 L45.99,319.03 L46.98,318.04 L47.96,317.05 L48.94,316.07 L49.93,315.12 L50.91,314.19 L51.89,313.31 L52.88,312.48 L53.86,311.71 L54.84,311.01 L55.82,310.39 L56.81,309.85 L57.79,309.40 L58.77,309.06 L59.76,308.81 L60.74,308.67 L61.72,308.64 L62.71,308.71 L63.69,308.89 L64.67,309.18 L65.65,309.57 L66.64,310.05 L67.62,310.62 L68.60,311.27 L69.59,312.00 L70.57,312.80 L71.55,313.65 L72.54,314.55 L73.52,315.49 L74.50,316.45 L75.48,317.43 L76.47,318.42 L77.45,319.41 L78.43,320.40 L79.42,321.36 L80.40,322.31 L81.38,323.22 L82.37,324.10 L83.35,324.94 L84.33,325.74 L85.31,326.50 L86.30,327.21 L87.28,327.87 L88.26,328.48 L89.25,329.05 L90.23,329.57 L91.21,330.04 L92.20,330.47 L93.18,330.86 L94.16,331.20 L95.14,331.51 L96.13,331.79 L97.11,332.03 L98.09,332.24 L99.08,332.43 L100.06,332.59 L101.04,332.73 L102.03,332.85 L103.01,332.95 L103.99,333.04 L104.97,333.12 L105.96,333.18 L106.94,333.23 L107.92,333.28 L108.91,333.32 L109.89,333.35 L110.87,333.37 L111.86,333.39 L112.84,333.41 L113.82,333.42 L114.80,333.43 L115.79,333.44 L116.77,333.45 L117.75,333.46 L118.74,333.46 L119.72,333.46 L120.70,333.47 L121.69,333.47 L122.67,333.47 L123.65,333.47 L124.63,333.47 L125.62,333.47 L126.60,333.47 L127.58,333.48 L128.57,333.48 L129.55,333.48 L130.53,333.48 L131.52,333.48 L132.50,333.48 L133.48,333.48 L134.46,333.48 L135.45,333.48 L136.43,333.48 L137.41,333.48 L138.40,333.48 L139.38,333.48 L140.36,333.48 L141.35,333.48 L142.33,333.48 L143.31,333.48 L144.29,333.48 L145.28,333.48 L146.26,333.48 L147.24,333.48 L148.23,333.48 L149.21,333.48 L150.19,333.48 L151.18,333.48 L152.16,333.48 L153.14,333.48 L154.12,333.48 L155.11,333.48 L156.09,333.48 L157.07,333.48 L158.06,333.48 L159.04,333.48 L160.02,333.48 L161.01,333.48 L161.99,333.48 L162.97,333.48 L163.95,333.48 L164.94,333.48 L165.92,333.48 L166.90,333.48 L167.89,333.48 L168.87,333.48 L169.85,333.48 L170.84,333.48 L171.82,333.48 L172.80,333.48 L173.78,333.48 L174.77,333.48 L175.75,333.48 L176.73,333.48 L177.72,333.48 L178.70,333.48 L179.68,333.48 L180.67,333.48 L181.65,333.48 L182.63,333.48 L183.61,333.48 L184.60,333.48 L185.58,333.48 L186.56,333.48 L187.55,333.48 L188.53,333.48 L189.51,333.48 L190.50,333.48 L191.48,333.48 L192.46,333.48 L193.44,333.48 L194.43,333.48 L195.41,333.48 L196.39,333.48 L197.38,333.48 L198.36,333.48 L199.34,333.48 L200.33,333.48 L201.31,333.48 L202.29,333.48 L203.27,333.48 L204.26,333.48 L205.24,333.48 L206.22,333.48 L207.21,333.48 L208.19,333.48 L209.17,333.48 L210.16,333.48 L211.14,333.48 L212.12,333.48 L213.10,333.48 L214.09,333.48 L215.07,333.48 L216.05,333.48 L217.04,333.48 L218.02,333.48 L219.00,333.48 L219.99,333.48 L220.97,333.48 L221.95,333.48 L222.93,333.48 L223.92,333.48 L224.90,333.48"/><path d="M28.30,333.16 L29.28,333.11 L30.27,333.06 L31.25,333.00 L32.23,332.93 L33.22,332.85 L34.20,332.76 L35.18,332.67 L36.16,332.55 L37.15,332.43 L38.13,332.29 L39.11,332.14 L40.10,331.96 L41.08,331.77 L42.06,331.56 L43.05,331.32 L44.03,331.06 L45.01,330.77 L45.99,330.46 L46.98,330.11 L47.96,329.73 L48.94,329.31 L49.93,328.85 L50.91,328.35 L51.89,327.81 L52.88,327.22 L53.86,326.59 L54.84,325.90 L55.82,325.16 L56.81,324.36 L57.79,323.50 L58.77,322.58 L59.76,321.59 L60.74,320.54 L61.72,319.42 L62.71,318.22 L63.69,316.96 L64.67,315.62 L65.65,314.21 L66.64,312.72 L67.62,311.15 L68.60,309.51 L69.59,307.79 L70.57,306.00 L71.55,304.13 L72.54,302.19 L73.52,300.17 L74.50,298.09 L75.48,295.95 L76.47,293.74 L77.45,291.48 L78.43,289.16 L79.42,286.80 L80.40,284.40 L81.38,281.96 L82.37,279.50 L83.35,277.01 L84.33,274.51 L85.31,272.01 L86.30,269.52 L87.28,267.03 L88.26,264.57 L89.25,262.15 L90.23,259.76 L91.21,257.43 L92.20,255.16 L93.18,252.96 L94.16,250.85 L95.14,248.82 L96.13,246.89 L97.11,245.08 L98.09,243.38 L99.08,241.81 L100.06,240.37 L101.04,239.07 L102.03,237.93 L103.01,236.93 L103.99,236.09 L104.97,235.42 L105.96,234.91 L106.94,234.57 L107.92,234.40 L108.91,234.41 L109.89,234.58 L110.87,234.93 L111.86,235.44 L112.84,236.12 L113.82,236.96 L114.80,237.96 L115.79,239.12 L116.77,240.42 L117.75,241.86 L118.74,243.44 L119.72,245.14 L120.70,246.96 L121.69,248.89 L122.67,250.92 L123.65,253.04 L124.63,255.24 L125.62,257.51 L126.60,259.84 L127.58,262.23 L128.57,264.66 L129.55,267.12 L130.53,269.60 L131.52,272.10 L132.50,274.60 L133.48,277.10 L134.46,279.58 L135.45,282.04 L136.43,284.48 L137.41,286.88 L138.40,289.24 L139.38,291.56 L140.36,293.82 L141.35,296.02 L142.33,298.17 L143.31,300.24 L144.29,302.25 L145.28,304.19 L146.26,306.06 L147.24,307.85 L148.23,309.57 L149.21,311.21 L150.19,312.77 L151.18,314.26 L152.16,315.67 L153.14,317.00 L154.12,318.27 L155.11,319.46 L156.09,320.58 L157.07,321.63 L158.06,322.61 L159.04,323.53 L160.02,324.39 L161.01,325.18 L161.99,325.92 L162.97,326.61 L163.95,327.25 L164.94,327.83 L165.92,328.37 L166.90,328.87 L167.89,329.32 L168.87,329.74 L169.85,330.12 L170.84,330.47 L171.82,330.78 L172.80,331.07 L173.78,331.33 L174.77,331.57 L175.75,331.78 L176.73,331.97 L177.72,332.14 L178.70,332.30 L179.68,332.43 L180.67,332.56 L181.65,332.67 L182.63,332.77 L183.61,332.85 L184.60,332.93 L185.58,333.00 L186.56,333.06 L187.55,333.12 L188.53,333.16 L189.51,333.20 L190.50,333.24 L191.48,333.27 L192.46,333.30 L193.44,333.33 L194.43,333.35 L195.41,333.36 L196.39,333.38 L197.38,333.39 L198.36,333.41 L199.34,333.42 L200.33,333.43 L201.31,333.43 L202.29,333.44 L203.27,333.45 L204.26,333.45 L205.24,333.45 L206.22,333.46 L207.21,333.46 L208.19,333.46 L209.17,333.47 L210.16,333.47 L211.14,333.47 L212.12,333.47 L213.10,333.47 L214.09,333.47 L215.07,333.47 L216.05,333.47 L217.04,333.47 L218.02,333.47 L219.00,333.48 L219.99,333.48 L220.97,333.48 L221.95,333.48 L222.93,333.48 L223.92,333.48 L224.90,333.48"/><path d="M28.30,333.44 L29.28,333.44 L30.27,333.44 L31.25,333.43 L32.23,333.43 L33.22,333.42 L34.20,333.41 L35.18,333.41 L36.16,333.40 L37.15,333.39 L38.13,333.38 L39.11,333.37 L40.10,333.36 L41.08,333.34 L42.06,333.33 L43.05,333.31 L44.03,333.30 L45.01,333.28 L45.99,333.26 L46.98,333.24 L47.96,333.21 L48.94,333.19 L49.93,333.16 L50.91,333.13 L51.89,333.09 L52.88,333.05 L53.86,333.01 L54.84,332.97 L55.82,332.92 L56.81,332.87 L57.79,332.82 L58.77,332.76 L59.76,332.69 L60.74,332.62 L61.72,332.55 L62.71,332.46 L63.69,332.38 L64.67,332.28 L65.65,332.18 L66.64,332.07 L67.62,331.96 L68.60,331.83 L69.59,331.70 L70.57,331.56 L71.55,331.41 L72.54,331.24 L73.52,331.07 L74.50,330.89 L75.48,330.69 L76.47,330.48 L77.45,330.26 L78.43,330.03 L79.42,329.78 L80.40,329.51 L81.38,329.24 L82.37,328.94 L83.35,328.63 L84.33,328.30 L85.31,327.96 L86.30,327.59 L87.28,327.21 L88.26,326.81 L89.25,326.39 L90.23,325.94 L91.21,325.48 L92.20,324.99 L93.18,324.49 L94.16,323.96 L95.14,323.41 L96.13,322.83 L97.11,322.23 L98.09,321.61 L99.08,320.96 L100.06,320.29 L101.04,319.59 L102.03,318.87 L103.01,318.12 L103.99,317.35 L104.97,316.56 L105.96,315.74 L106.94,314.89 L107.92,314.02 L108.91,313.13 L109.89,312.22 L110.87,311.28 L111.86,310.32 L112.84,309.33 L113.82,308.33 L114.80,307.30 L115.79,306.26 L116.77,305.20 L117.75,304.12 L118.74,303.03 L119.72,301.92 L120.70,300.79 L121.69,299.66 L122.67,298.51 L123.65,297.36 L124.63,296.19 L125.62,295.03 L126.60,293.85 L127.58,292.68 L128.57,291.51 L129.55,290.34 L130.53,289.17 L131.52,288.00 L132.50,286.85 L133.48,285.71 L134.46,284.57 L135.45,283.46 L136.43,282.35 L137.41,281.27 L138.40,280.21 L139.38,279.17 L140.36,278.16 L141.35,277.18 L142.33,276.22 L143.31,275.30 L144.29,274.41 L145.28,273.55 L146.26,272.74 L147.24,271.96 L148.23,271.23 L149.21,270.54 L150.19,269.89 L151.18,269.29 L152.16,268.74 L153.14,268.23 L154.12,267.78 L155.11,267.38 L156.09,267.03 L157.07,266.73 L158.06,266.49 L159.04,266.30 L160.02,266.17 L161.01,266.09 L161.99,266.07 L162.97,266.10 L163.95,266.19 L164.94,266.33 L165.92,266.53 L166.90,266.79 L167.89,267.09 L168.87,267.45 L169.85,267.87 L170.84,268.33 L171.82,268.84 L172.80,269.41 L173.78,270.02 L174.77,270.67 L175.75,271.37 L176.73,272.12 L177.72,272.90 L178.70,273.73 L179.68,274.59 L180.67,275.48 L181.65,276.41 L182.63,277.37 L183.61,278.37 L184.60,279.38 L185.58,280.43 L186.56,281.49 L187.55,282.58 L188.53,283.68 L189.51,284.80 L190.50,285.94 L191.48,287.08 L192.46,288.24 L193.44,289.40 L194.43,290.57 L195.41,291.75 L196.39,292.92 L197.38,294.09 L198.36,295.26 L199.34,296.43 L200.33,297.59 L201.31,298.75 L202.29,299.89 L203.27,301.02 L204.26,302.14 L205.24,303.25 L206.22,304.34 L207.21,305.42 L208.19,306.47 L209.17,307.51 L210.16,308.53 L211.14,309.53 L212.12,310.51 L213.10,311.47 L214.09,312.40 L215.07,313.32 L216.05,314.20 L217.04,315.07 L218.02,315.91 L219.00,316.72 L219.99,317.51 L220.97,318.28 L221.95,319.02 L222.93,319.74 L223.92,320.43 L224.90,321.09"/><path d="M28.30,333.43 L224.90,333.43"/></g>
<g clip-path="url(#cc)" fill="none" stroke-linejoin="round">
<path d="M28.30,331.50 L38.13,324.20 L47.96,313.10 L57.79,299.70 L67.62,286.30 L77.45,272.80 L87.28,257.20 L97.11,232.40 L106.94,214.30 L116.77,211.10 L126.60,223.20 L136.43,233.80 L146.26,242.20 L156.09,253.30 L165.92,264.50 L175.75,270.50 L185.58,279.80 L195.41,289.90 L205.24,301.30 L215.07,312.40 L224.90,325.20" stroke="#ff1a1a" stroke-width="0.9"/>
<path d="M28.30,331.05 L29.28,330.67 L30.27,330.25 L31.25,329.78 L32.23,329.26 L33.22,328.69 L34.20,328.06 L35.18,327.37 L36.16,326.62 L37.15,325.80 L38.13,324.93 L39.11,323.99 L40.10,322.99 L41.08,321.93 L42.06,320.80 L43.05,319.63 L44.03,318.39 L45.01,317.11 L45.99,315.79 L46.98,314.43 L47.96,313.03 L48.94,311.61 L49.93,310.17 L50.91,308.72 L51.89,307.26 L52.88,305.81 L53.86,304.36 L54.84,302.93 L55.82,301.51 L56.81,300.12 L57.79,298.76 L58.77,297.43 L59.76,296.14 L60.74,294.87 L61.72,293.65 L62.71,292.45 L63.69,291.28 L64.67,290.13 L65.65,289.00 L66.64,287.89 L67.62,286.78 L68.60,285.66 L69.59,284.54 L70.57,283.40 L71.55,282.23 L72.54,281.03 L73.52,279.78 L74.50,278.48 L75.48,277.12 L76.47,275.69 L77.45,274.20 L78.43,272.63 L79.42,270.99 L80.40,269.27 L81.38,267.46 L82.37,265.59 L83.35,263.63 L84.33,261.61 L85.31,259.52 L86.30,257.36 L87.28,255.16 L88.26,252.91 L89.25,250.63 L90.23,248.32 L91.21,246.00 L92.20,243.67 L93.18,241.35 L94.16,239.05 L95.14,236.78 L96.13,234.56 L97.11,232.38 L98.09,230.28 L99.08,228.24 L100.06,226.30 L101.04,224.44 L102.03,222.69 L103.01,221.06 L103.99,219.54 L104.97,218.14 L105.96,216.88 L106.94,215.75 L107.92,214.75 L108.91,213.90 L109.89,213.19 L110.87,212.62 L111.86,212.19 L112.84,211.91 L113.82,211.76 L114.80,211.75 L115.79,211.87 L116.77,212.11 L117.75,212.48 L118.74,212.97 L119.72,213.56 L120.70,214.26 L121.69,215.06 L122.67,215.95 L123.65,216.91 L124.63,217.95 L125.62,219.06 L126.60,220.22 L127.58,221.43 L128.57,222.69 L129.55,223.98 L130.53,225.29 L131.52,226.63 L132.50,227.97 L133.48,229.32 L134.46,230.68 L135.45,232.02 L136.43,233.36 L137.41,234.68 L138.40,235.98 L139.38,237.25 L140.36,238.50 L141.35,239.72 L142.33,240.91 L143.31,242.07 L144.29,243.19 L145.28,244.27 L146.26,245.32 L147.24,246.34 L148.23,247.32 L149.21,248.27 L150.19,249.18 L151.18,250.07 L152.16,250.93 L153.14,251.76 L154.12,252.57 L155.11,253.36 L156.09,254.12 L157.07,254.88 L158.06,255.62 L159.04,256.35 L160.02,257.07 L161.01,257.80 L161.99,258.51 L162.97,259.23 L163.95,259.96 L164.94,260.69 L165.92,261.43 L166.90,262.18 L167.89,262.94 L168.87,263.72 L169.85,264.51 L170.84,265.32 L171.82,266.15 L172.80,267.00 L173.78,267.87 L174.77,268.76 L175.75,269.67 L176.73,270.61 L177.72,271.57 L178.70,272.54 L179.68,273.54 L180.67,274.56 L181.65,275.61 L182.63,276.67 L183.61,277.74 L184.60,278.84 L185.58,279.95 L186.56,281.08 L187.55,282.22 L188.53,283.37 L189.51,284.53 L190.50,285.70 L191.48,286.88 L192.46,288.06 L193.44,289.25 L194.43,290.44 L195.41,291.63 L196.39,292.82 L197.38,294.01 L198.36,295.19 L199.34,296.37 L200.33,297.54 L201.31,298.70 L202.29,299.85 L203.27,300.99 L204.26,302.12 L205.24,303.23 L206.22,304.32 L207.21,305.40 L208.19,306.46 L209.17,307.50 L210.16,308.53 L211.14,309.53 L212.12,310.51 L213.10,311.46 L214.09,312.40 L215.07,313.31 L216.05,314.20 L217.04,315.06 L218.02,315.90 L219.00,316.72 L219.99,317.51 L220.97,318.28 L221.95,319.02 L222.93,319.73 L223.92,320.43 L224.90,321.09" stroke="#9a4cf0" stroke-width="1.0"/>
<rect x="26.50" y="329.70" width="3.6" height="3.6" fill="#f01818"/>
<rect x="36.33" y="322.40" width="3.6" height="3.6" fill="#f01818"/>
<rect x="46.16" y="311.30" width="3.6" height="3.6" fill="#f01818"/>
<rect x="55.99" y="297.90" width="3.6" height="3.6" fill="#f01818"/>
<rect x="65.82" y="284.50" width="3.6" height="3.6" fill="#f01818"/>
<rect x="75.65" y="271.00" width="3.6" height="3.6" fill="#f01818"/>
<rect x="85.48" y="255.40" width="3.6" height="3.6" fill="#f01818"/>
<rect x="95.31" y="230.60" width="3.6" height="3.6" fill="#f01818"/>
<rect x="105.14" y="212.50" width="3.6" height="3.6" fill="#f01818"/>
<rect x="114.97" y="209.30" width="3.6" height="3.6" fill="#f01818"/>
<rect x="124.80" y="221.40" width="3.6" height="3.6" fill="#f01818"/>
<rect x="134.63" y="232.00" width="3.6" height="3.6" fill="#f01818"/>
<rect x="144.46" y="240.40" width="3.6" height="3.6" fill="#f01818"/>
<rect x="154.29" y="251.50" width="3.6" height="3.6" fill="#f01818"/>
<rect x="164.12" y="262.70" width="3.6" height="3.6" fill="#f01818"/>
<rect x="173.95" y="268.70" width="3.6" height="3.6" fill="#f01818"/>
<rect x="183.78" y="278.00" width="3.6" height="3.6" fill="#f01818"/>
<rect x="193.61" y="288.10" width="3.6" height="3.6" fill="#f01818"/>
<rect x="203.44" y="299.50" width="3.6" height="3.6" fill="#f01818"/>
<rect x="213.27" y="310.60" width="3.6" height="3.6" fill="#f01818"/>
<rect x="223.10" y="323.40" width="3.6" height="3.6" fill="#f01818"/>
</g>
<path d="M58.80,323.00 L58.80,276.70" stroke="#333" stroke-width="0.9"/>
<path d="M57.30,277.70 L58.80,273.70 L60.30,277.70 L58.80,277.00 Z" fill="#111"/>
<path d="M109.20,256.20 L109.20,211.10" stroke="#333" stroke-width="0.9"/>
<path d="M107.70,212.10 L109.20,208.10 L110.70,212.10 L109.20,211.40 Z" fill="#111"/>
<path d="M162.90,304.30 L162.90,256.40" stroke="#333" stroke-width="0.9"/>
<path d="M161.40,257.40 L162.90,253.40 L164.40,257.40 L162.90,256.70 Z" fill="#111"/>
<rect x="28.3" y="188.4" width="196.6" height="161.99999999999997" fill="none" stroke="#636363" stroke-width="1.4"/>
<path d="M25.00,334.97 L28.30,334.97 M25.00,304.11 L28.30,304.11 M25.00,273.26 L28.30,273.26 M25.00,242.40 L28.30,242.40 M25.00,211.54 L28.30,211.54 M26.70,319.54 L28.30,319.54 M26.70,288.69 L28.30,288.69 M26.70,257.83 L28.30,257.83 M26.70,226.97 L28.30,226.97 M26.70,196.11 L28.30,196.11 M28.30,350.40 L28.30,353.70 M77.45,350.40 L77.45,353.70 M126.60,350.40 L126.60,353.70 M175.75,350.40 L175.75,353.70 M224.90,350.40 L224.90,353.70 M52.88,350.40 L52.88,352.00 M102.02,350.40 L102.02,352.00 M151.18,350.40 L151.18,352.00 M200.33,350.40 L200.33,352.00" stroke="#4a4a4a" stroke-width="0.9" fill="none"/>
<text x="23.8" y="337.3" font-size="6.6" text-anchor="end" fill="#222">0.2</text>
<text x="23.8" y="306.4" font-size="6.6" text-anchor="end" fill="#222">0.4</text>
<text x="23.8" y="275.6" font-size="6.6" text-anchor="end" fill="#222">0.6</text>
<text x="23.8" y="244.7" font-size="6.6" text-anchor="end" fill="#222">0.8</text>
<text x="23.8" y="213.8" font-size="6.6" text-anchor="end" fill="#222">1.0</text>
<text x="28.3" y="360.3" font-size="6.6" text-anchor="middle" fill="#222">465</text>
<text x="77.5" y="360.3" font-size="6.6" text-anchor="middle" fill="#222">470</text>
<text x="126.6" y="360.3" font-size="6.6" text-anchor="middle" fill="#222">475</text>
<text x="175.8" y="360.3" font-size="6.6" text-anchor="middle" fill="#222">480</text>
<text x="224.9" y="360.3" font-size="6.6" text-anchor="middle" fill="#222">485</text>
<text x="116.5" y="369.3" font-size="8.2" text-anchor="middle" fill="#111" textLength="51.5" lengthAdjust="spacingAndGlyphs">Wavelength (nm)</text>
<text transform="translate(9.6,272.5) rotate(-90)" font-size="8.2" text-anchor="middle" fill="#111" textLength="65.5" lengthAdjust="spacingAndGlyphs">Normalized Intensity</text>
<text x="31.3" y="196.2" font-size="7.6" fill="#111">c)</text>
<text x="90.90" y="199.10" font-size="7.3" fill="#111" text-anchor="start" textLength="7.19" lengthAdjust="spacingAndGlyphs">Zn</text><text x="98.48" y="200.60" font-size="5.0" fill="#111" text-anchor="start">i</text><text x="99.25" y="196.90" font-size="5.0" fill="#111" text-anchor="start">+</text><path d="M101.58,197.10 L106.39,197.10" stroke="#111" stroke-width="0.6"/><path d="M105.79,195.90 L107.99,197.10 L105.79,198.30 Z" fill="#111"/><text x="108.77" y="196.90" font-size="5.0" fill="#111" text-anchor="start">3</text><text x="111.49" y="199.10" font-size="7.3" fill="#111" text-anchor="start" textLength="3.88" lengthAdjust="spacingAndGlyphs">P</text><text x="115.28" y="200.60" font-size="5.0" fill="#111" text-anchor="start">J</text><text x="117.12" y="199.10" font-size="7.3" fill="#111" text-anchor="start" textLength="10.88" lengthAdjust="spacingAndGlyphs">(O)</text>
<text x="93.80" y="207.10" font-size="7.3" fill="#111" text-anchor="start" textLength="43.50" lengthAdjust="spacingAndGlyphs">473 nm (2.62 eV)</text>
<text x="33.50" y="258.80" font-size="7.3" fill="#111" text-anchor="start" textLength="7.38" lengthAdjust="spacingAndGlyphs">Zn</text><text x="41.14" y="260.30" font-size="5.0" fill="#111" text-anchor="start">i</text><text x="41.99" y="256.60" font-size="5.0" fill="#111" text-anchor="start">+</text><path d="M45.36,256.80 L51.14,256.80" stroke="#111" stroke-width="0.6"/><path d="M50.54,255.60 L52.74,256.80 L50.54,258.00 Z" fill="#111"/><text x="53.80" y="258.80" font-size="7.3" fill="#111" text-anchor="start" textLength="4.85" lengthAdjust="spacingAndGlyphs">V</text><text x="58.86" y="260.30" font-size="5.0" fill="#111" text-anchor="start" textLength="4.64" lengthAdjust="spacingAndGlyphs">Zn</text><text x="59.39" y="256.10" font-size="5.0" fill="#111" text-anchor="start">0</text>
<text x="32.00" y="270.30" font-size="7.3" fill="#111" text-anchor="start" textLength="43.30" lengthAdjust="spacingAndGlyphs">468 nm (2.65 eV)</text>
<text x="160.30" y="241.10" font-size="7.3" fill="#111" text-anchor="start" textLength="6.89" lengthAdjust="spacingAndGlyphs">Zn</text><text x="167.44" y="242.60" font-size="5.0" fill="#111" text-anchor="start">i</text><text x="168.22" y="238.90" font-size="5.0" fill="#111" text-anchor="start">+</text><path d="M171.37,239.10 L176.66,239.10" stroke="#111" stroke-width="0.6"/><path d="M176.06,237.90 L178.26,239.10 L176.06,240.30 Z" fill="#111"/><text x="179.25" y="241.10" font-size="7.3" fill="#111" text-anchor="start" textLength="4.53" lengthAdjust="spacingAndGlyphs">V</text><text x="183.97" y="242.60" font-size="5.0" fill="#111" text-anchor="start" textLength="4.33" lengthAdjust="spacingAndGlyphs">Zn</text><text x="184.46" y="238.40" font-size="5.0" fill="#111" text-anchor="start">0</text>
<text x="158.30" y="251.50" font-size="7.3" fill="#111" text-anchor="start" textLength="43.80" lengthAdjust="spacingAndGlyphs">479 nm (2.59 eV)</text>
<text x="155.80" y="195.30" font-size="7.5" fill="#111" text-anchor="start" textLength="45.24" lengthAdjust="spacingAndGlyphs">Goodness of fit (R</text><text x="201.14" y="192.00" font-size="5.0" fill="#111" text-anchor="start">2</text><text x="202.74" y="195.30" font-size="7.5" fill="#111" text-anchor="start" textLength="19.66" lengthAdjust="spacingAndGlyphs">) = 0.99</text>
<text x="160.30" y="204.20" font-size="7.5" fill="#111" text-anchor="start" textLength="8.87" lengthAdjust="spacingAndGlyphs">500</text><text x="170.35" y="203.60" font-size="6.0" fill="#111" text-anchor="start">°</text><text x="171.73" y="204.20" font-size="7.5" fill="#111" text-anchor="start" textLength="49.17" lengthAdjust="spacingAndGlyphs">C, 15 min, Vacuum</text>
<text x="160.30" y="214.00" font-size="7.3" fill="#111" text-anchor="start" textLength="6.80" lengthAdjust="spacingAndGlyphs">Zn</text><text x="167.10" y="215.30" font-size="5.0" fill="#111" text-anchor="start" textLength="8.52" lengthAdjust="spacingAndGlyphs">0.99</text><text x="175.62" y="214.00" font-size="7.3" fill="#111" text-anchor="start" textLength="6.32" lengthAdjust="spacingAndGlyphs">Ga</text><text x="181.94" y="215.30" font-size="5.0" fill="#111" text-anchor="start" textLength="8.33" lengthAdjust="spacingAndGlyphs">0.01</text><text x="190.56" y="214.00" font-size="7.3" fill="#111" text-anchor="start" textLength="12.74" lengthAdjust="spacingAndGlyphs">O:Zn</text><text x="203.30" y="215.30" font-size="5.0" fill="#111" text-anchor="start">i</text><text x="203.68" y="212.40" font-size="5.0" fill="#111" text-anchor="start" textLength="4.98" lengthAdjust="spacingAndGlyphs">2+</text>
<text x="160.70" y="224.90" font-size="7.5" fill="#111" text-anchor="start" textLength="31.60" lengthAdjust="spacingAndGlyphs">y = 0.5 at%</text>
<clipPath id="cd"><rect x="255.6" y="188.4" width="195.9" height="162.29999999999998"/></clipPath>
<g clip-path="url(#cd)" fill="none" stroke="#8c8c8c" stroke-width="0.5" stroke-dasharray="0.9,0.5"><path d="M255.60,337.04 L256.58,336.94 L257.56,336.82 L258.54,336.68 L259.52,336.51 L260.50,336.31 L261.48,336.07 L262.46,335.80 L263.44,335.48 L264.42,335.11 L265.40,334.69 L266.37,334.22 L267.35,333.69 L268.33,333.11 L269.31,332.46 L270.29,331.75 L271.27,330.99 L272.25,330.17 L273.23,329.30 L274.21,328.39 L275.19,327.44 L276.17,326.47 L277.15,325.47 L278.13,324.47 L279.11,323.48 L280.09,322.51 L281.07,321.58 L282.05,320.70 L283.03,319.89 L284.01,319.16 L284.99,318.52 L285.96,317.99 L286.94,317.58 L287.92,317.29 L288.90,317.12 L289.88,317.09 L290.86,317.20 L291.84,317.43 L292.82,317.79 L293.80,318.27 L294.78,318.86 L295.76,319.55 L296.74,320.33 L297.72,321.18 L298.70,322.09 L299.68,323.04 L300.66,324.03 L301.64,325.02 L302.62,326.02 L303.60,327.01 L304.58,327.97 L305.55,328.90 L306.53,329.79 L307.51,330.63 L308.49,331.42 L309.47,332.15 L310.45,332.82 L311.43,333.44 L312.41,333.99 L313.39,334.49 L314.37,334.93 L315.35,335.32 L316.33,335.66 L317.31,335.95 L318.29,336.21 L319.27,336.42 L320.25,336.61 L321.23,336.76 L322.21,336.89 L323.19,337.00 L324.17,337.09 L325.14,337.16 L326.12,337.22 L327.10,337.26 L328.08,337.30 L329.06,337.33 L330.04,337.35 L331.02,337.37 L332.00,337.39 L332.98,337.40 L333.96,337.41 L334.94,337.41 L335.92,337.42 L336.90,337.42 L337.88,337.42 L338.86,337.43 L339.84,337.43 L340.82,337.43 L341.80,337.43 L342.78,337.43 L343.76,337.43 L344.73,337.43 L345.71,337.43 L346.69,337.43 L347.67,337.43 L348.65,337.43 L349.63,337.43 L350.61,337.43 L351.59,337.43 L352.57,337.43 L353.55,337.43 L354.53,337.43 L355.51,337.43 L356.49,337.43 L357.47,337.43 L358.45,337.43 L359.43,337.43 L360.41,337.43 L361.39,337.43 L362.37,337.43 L363.35,337.43 L364.32,337.43 L365.30,337.43 L366.28,337.43 L367.26,337.43 L368.24,337.43 L369.22,337.43 L370.20,337.43 L371.18,337.43 L372.16,337.43 L373.14,337.43 L374.12,337.43 L375.10,337.43 L376.08,337.43 L377.06,337.43 L378.04,337.43 L379.02,337.43 L380.00,337.43 L380.98,337.43 L381.96,337.43 L382.94,337.43 L383.91,337.43 L384.89,337.43 L385.87,337.43 L386.85,337.43 L387.83,337.43 L388.81,337.43 L389.79,337.43 L390.77,337.43 L391.75,337.43 L392.73,337.43 L393.71,337.43 L394.69,337.43 L395.67,337.43 L396.65,337.43 L397.63,337.43 L398.61,337.43 L399.59,337.43 L400.57,337.43 L401.55,337.43 L402.53,337.43 L403.50,337.43 L404.48,337.43 L405.46,337.43 L406.44,337.43 L407.42,337.43 L408.40,337.43 L409.38,337.43 L410.36,337.43 L411.34,337.43 L412.32,337.43 L413.30,337.43 L414.28,337.43 L415.26,337.43 L416.24,337.43 L417.22,337.43 L418.20,337.43 L419.18,337.43 L420.16,337.43 L421.14,337.43 L422.12,337.43 L423.09,337.43 L424.07,337.43 L425.05,337.43 L426.03,337.43 L427.01,337.43 L427.99,337.43 L428.97,337.43 L429.95,337.43 L430.93,337.43 L431.91,337.43 L432.89,337.43 L433.87,337.43 L434.85,337.43 L435.83,337.43 L436.81,337.43 L437.79,337.43 L438.77,337.43 L439.75,337.43 L440.73,337.43 L441.71,337.43 L442.68,337.43 L443.66,337.43 L444.64,337.43 L445.62,337.43 L446.60,337.43 L447.58,337.43 L448.56,337.43 L449.54,337.43 L450.52,337.43 L451.50,337.43"/><path d="M255.60,334.74 L256.58,334.51 L257.56,334.25 L258.54,333.98 L259.52,333.68 L260.50,333.37 L261.48,333.03 L262.46,332.67 L263.44,332.28 L264.42,331.87 L265.40,331.43 L266.37,330.96 L267.35,330.47 L268.33,329.94 L269.31,329.38 L270.29,328.78 L271.27,328.15 L272.25,327.49 L273.23,326.79 L274.21,326.04 L275.19,325.26 L276.17,324.44 L277.15,323.57 L278.13,322.66 L279.11,321.71 L280.09,320.71 L281.07,319.66 L282.05,318.56 L283.03,317.42 L284.01,316.23 L284.99,314.99 L285.96,313.70 L286.94,312.35 L287.92,310.96 L288.90,309.52 L289.88,308.02 L290.86,306.48 L291.84,304.88 L292.82,303.24 L293.80,301.55 L294.78,299.81 L295.76,298.02 L296.74,296.19 L297.72,294.31 L298.70,292.39 L299.68,290.43 L300.66,288.43 L301.64,286.40 L302.62,284.33 L303.60,282.23 L304.58,280.10 L305.55,277.95 L306.53,275.77 L307.51,273.58 L308.49,271.37 L309.47,269.15 L310.45,266.92 L311.43,264.69 L312.41,262.46 L313.39,260.23 L314.37,258.02 L315.35,255.82 L316.33,253.64 L317.31,251.48 L318.29,249.35 L319.27,247.25 L320.25,245.19 L321.23,243.18 L322.21,241.21 L323.19,239.30 L324.17,237.44 L325.14,235.65 L326.12,233.92 L327.10,232.26 L328.08,230.68 L329.06,229.18 L330.04,227.76 L331.02,226.43 L332.00,225.18 L332.98,224.04 L333.96,222.99 L334.94,222.04 L335.92,221.20 L336.90,220.46 L337.88,219.82 L338.86,219.30 L339.84,218.89 L340.82,218.59 L341.80,218.40 L342.78,218.33 L343.76,218.37 L344.73,218.52 L345.71,218.79 L346.69,219.17 L347.67,219.66 L348.65,220.26 L349.63,220.96 L350.61,221.78 L351.59,222.70 L352.57,223.71 L353.55,224.83 L354.53,226.05 L355.51,227.35 L356.49,228.74 L357.47,230.22 L358.45,231.78 L359.43,233.42 L360.41,235.12 L361.39,236.90 L362.37,238.74 L363.35,240.64 L364.32,242.59 L365.30,244.59 L366.28,246.63 L367.26,248.72 L368.24,250.84 L369.22,252.99 L370.20,255.16 L371.18,257.36 L372.16,259.57 L373.14,261.79 L374.12,264.02 L375.10,266.25 L376.08,268.48 L377.06,270.71 L378.04,272.92 L379.02,275.12 L380.00,277.30 L380.98,279.46 L381.96,281.60 L382.94,283.70 L383.91,285.78 L384.89,287.83 L385.87,289.84 L386.85,291.81 L387.83,293.74 L388.81,295.63 L389.79,297.48 L390.77,299.28 L391.75,301.03 L392.73,302.74 L393.71,304.40 L394.69,306.01 L395.67,307.57 L396.65,309.08 L397.63,310.54 L398.61,311.94 L399.59,313.30 L400.57,314.61 L401.55,315.86 L402.53,317.07 L403.50,318.23 L404.48,319.34 L405.46,320.40 L406.44,321.41 L407.42,322.38 L408.40,323.30 L409.38,324.18 L410.36,325.02 L411.34,325.81 L412.32,326.57 L413.30,327.28 L414.28,327.96 L415.26,328.60 L416.24,329.20 L417.22,329.78 L418.20,330.31 L419.18,330.82 L420.16,331.30 L421.14,331.74 L422.12,332.16 L423.09,332.56 L424.07,332.92 L425.05,333.27 L426.03,333.59 L427.01,333.89 L427.99,334.17 L428.97,334.43 L429.95,334.67 L430.93,334.90 L431.91,335.11 L432.89,335.30 L433.87,335.48 L434.85,335.65 L435.83,335.80 L436.81,335.94 L437.79,336.07 L438.77,336.19 L439.75,336.30 L440.73,336.41 L441.71,336.50 L442.68,336.59 L443.66,336.66 L444.64,336.74 L445.62,336.80 L446.60,336.86 L447.58,336.92 L448.56,336.97 L449.54,337.01 L450.52,337.05 L451.50,337.09"/><path d="M255.60,337.43 L256.58,337.43 L257.56,337.43 L258.54,337.43 L259.52,337.43 L260.50,337.43 L261.48,337.43 L262.46,337.43 L263.44,337.43 L264.42,337.43 L265.40,337.43 L266.37,337.43 L267.35,337.43 L268.33,337.43 L269.31,337.43 L270.29,337.43 L271.27,337.43 L272.25,337.43 L273.23,337.43 L274.21,337.43 L275.19,337.43 L276.17,337.43 L277.15,337.43 L278.13,337.43 L279.11,337.43 L280.09,337.43 L281.07,337.43 L282.05,337.43 L283.03,337.43 L284.01,337.43 L284.99,337.43 L285.96,337.43 L286.94,337.43 L287.92,337.43 L288.90,337.43 L289.88,337.43 L290.86,337.43 L291.84,337.43 L292.82,337.42 L293.80,337.42 L294.78,337.42 L295.76,337.42 L296.74,337.42 L297.72,337.42 L298.70,337.42 L299.68,337.41 L300.66,337.41 L301.64,337.41 L302.62,337.40 L303.60,337.40 L304.58,337.39 L305.55,337.39 L306.53,337.38 L307.51,337.38 L308.49,337.37 L309.47,337.36 L310.45,337.35 L311.43,337.34 L312.41,337.32 L313.39,337.31 L314.37,337.29 L315.35,337.27 L316.33,337.25 L317.31,337.23 L318.29,337.20 L319.27,337.17 L320.25,337.14 L321.23,337.11 L322.21,337.07 L323.19,337.02 L324.17,336.97 L325.14,336.92 L326.12,336.86 L327.10,336.79 L328.08,336.72 L329.06,336.64 L330.04,336.55 L331.02,336.46 L332.00,336.35 L332.98,336.23 L333.96,336.11 L334.94,335.97 L335.92,335.82 L336.90,335.66 L337.88,335.48 L338.86,335.29 L339.84,335.09 L340.82,334.86 L341.80,334.62 L342.78,334.37 L343.76,334.09 L344.73,333.79 L345.71,333.47 L346.69,333.13 L347.67,332.76 L348.65,332.37 L349.63,331.96 L350.61,331.52 L351.59,331.05 L352.57,330.56 L353.55,330.03 L354.53,329.48 L355.51,328.90 L356.49,328.28 L357.47,327.64 L358.45,326.96 L359.43,326.25 L360.41,325.51 L361.39,324.74 L362.37,323.94 L363.35,323.11 L364.32,322.24 L365.30,321.34 L366.28,320.42 L367.26,319.46 L368.24,318.47 L369.22,317.46 L370.20,316.42 L371.18,315.36 L372.16,314.28 L373.14,313.17 L374.12,312.04 L375.10,310.90 L376.08,309.75 L377.06,308.58 L378.04,307.40 L379.02,306.22 L380.00,305.03 L380.98,303.84 L381.96,302.66 L382.94,301.48 L383.91,300.32 L384.89,299.16 L385.87,298.02 L386.85,296.91 L387.83,295.81 L388.81,294.75 L389.79,293.72 L390.77,292.72 L391.75,291.76 L392.73,290.84 L393.71,289.96 L394.69,289.14 L395.67,288.36 L396.65,287.64 L397.63,286.98 L398.61,286.37 L399.59,285.83 L400.57,285.35 L401.55,284.94 L402.53,284.60 L403.50,284.32 L404.48,284.11 L405.46,283.98 L406.44,283.91 L407.42,283.92 L408.40,284.00 L409.38,284.15 L410.36,284.37 L411.34,284.66 L412.32,285.02 L413.30,285.45 L414.28,285.94 L415.26,286.49 L416.24,287.11 L417.22,287.78 L418.20,288.52 L419.18,289.30 L420.16,290.14 L421.14,291.02 L422.12,291.95 L423.09,292.92 L424.07,293.93 L425.05,294.97 L426.03,296.04 L427.01,297.14 L427.99,298.26 L428.97,299.40 L429.95,300.55 L430.93,301.72 L431.91,302.90 L432.89,304.09 L433.87,305.27 L434.85,306.46 L435.83,307.64 L436.81,308.82 L437.79,309.98 L438.77,311.14 L439.75,312.28 L440.73,313.40 L441.71,314.50 L442.68,315.58 L443.66,316.64 L444.64,317.67 L445.62,318.68 L446.60,319.66 L447.58,320.61 L448.56,321.53 L449.54,322.42 L450.52,323.28 L451.50,324.11"/><path d="M255.60,337.37 L451.50,337.37"/></g>
<g clip-path="url(#cd)" fill="none" stroke-linejoin="round">
<path d="M255.60,334.90 L265.39,328.70 L275.19,314.60 L284.99,296.70 L294.78,281.20 L304.57,269.30 L314.37,258.60 L324.16,235.40 L333.96,219.60 L343.75,213.70 L353.55,221.60 L363.35,227.50 L373.14,234.40 L382.94,245.50 L392.73,259.20 L402.52,263.90 L412.32,274.90 L422.12,286.30 L431.91,299.70 L441.70,311.60 L451.50,327.20" stroke="#ff1a1a" stroke-width="0.9"/>
<path d="M255.60,334.35 L256.58,334.02 L257.56,333.64 L258.54,333.23 L259.52,332.76 L260.50,332.25 L261.48,331.67 L262.46,331.03 L263.44,330.33 L264.42,329.55 L265.40,328.69 L266.37,327.75 L267.35,326.73 L268.33,325.61 L269.31,324.41 L270.29,323.11 L271.27,321.71 L272.25,320.23 L273.23,318.66 L274.21,317.00 L275.19,315.27 L276.17,313.47 L277.15,311.61 L278.13,309.70 L279.11,307.76 L280.09,305.79 L281.07,303.81 L282.05,301.84 L283.03,299.88 L284.01,297.96 L284.99,296.08 L285.96,294.26 L286.94,292.50 L287.92,290.81 L288.90,289.21 L289.88,287.68 L290.86,286.24 L291.84,284.88 L292.82,283.60 L293.80,282.38 L294.78,281.23 L295.76,280.13 L296.74,279.08 L297.72,278.05 L298.70,277.04 L299.68,276.03 L300.66,275.01 L301.64,273.96 L302.62,272.89 L303.60,271.77 L304.58,270.60 L305.55,269.37 L306.53,268.08 L307.51,266.72 L308.49,265.29 L309.47,263.79 L310.45,262.23 L311.43,260.60 L312.41,258.91 L313.39,257.17 L314.37,255.38 L315.35,253.55 L316.33,251.69 L317.31,249.80 L318.29,247.90 L319.27,245.99 L320.25,244.08 L321.23,242.19 L322.21,240.31 L323.19,238.46 L324.17,236.64 L325.14,234.86 L326.12,233.13 L327.10,231.46 L328.08,229.84 L329.06,228.29 L330.04,226.80 L331.02,225.39 L332.00,224.06 L332.98,222.81 L333.96,221.64 L334.94,220.56 L335.92,219.57 L336.90,218.68 L337.88,217.87 L338.86,217.16 L339.84,216.54 L340.82,216.02 L341.80,215.59 L342.78,215.26 L343.76,215.02 L344.73,214.88 L345.71,214.83 L346.69,214.86 L347.67,214.99 L348.65,215.20 L349.63,215.49 L350.61,215.87 L351.59,216.32 L352.57,216.84 L353.55,217.43 L354.53,218.09 L355.51,218.81 L356.49,219.59 L357.47,220.43 L358.45,221.31 L359.43,222.24 L360.41,223.21 L361.39,224.21 L362.37,225.25 L363.35,226.31 L364.32,227.40 L365.30,228.50 L366.28,229.62 L367.26,230.75 L368.24,231.88 L369.22,233.02 L370.20,234.16 L371.18,235.29 L372.16,236.41 L373.14,237.53 L374.12,238.63 L375.10,239.72 L376.08,240.80 L377.06,241.85 L378.04,242.89 L379.02,243.90 L380.00,244.90 L380.98,245.87 L381.96,246.82 L382.94,247.76 L383.91,248.67 L384.89,249.56 L385.87,250.43 L386.85,251.29 L387.83,252.12 L388.81,252.95 L389.79,253.76 L390.77,254.56 L391.75,255.36 L392.73,256.15 L393.71,256.93 L394.69,257.71 L395.67,258.50 L396.65,259.29 L397.63,260.08 L398.61,260.89 L399.59,261.70 L400.57,262.53 L401.55,263.37 L402.53,264.24 L403.50,265.12 L404.48,266.02 L405.46,266.95 L406.44,267.90 L407.42,268.87 L408.40,269.87 L409.38,270.90 L410.36,271.96 L411.34,273.05 L412.32,274.16 L413.30,275.30 L414.28,276.47 L415.26,277.66 L416.24,278.88 L417.22,280.13 L418.20,281.40 L419.18,282.69 L420.16,284.00 L421.14,285.33 L422.12,286.68 L423.09,288.04 L424.07,289.42 L425.05,290.80 L426.03,292.20 L427.01,293.60 L427.99,295.00 L428.97,296.40 L429.95,297.80 L430.93,299.19 L431.91,300.58 L432.89,301.96 L433.87,303.33 L434.85,304.68 L435.83,306.01 L436.81,307.33 L437.79,308.63 L438.77,309.90 L439.75,311.15 L440.73,312.37 L441.71,313.57 L442.68,314.74 L443.66,315.87 L444.64,316.98 L445.62,318.05 L446.60,319.09 L447.58,320.09 L448.56,321.07 L449.54,322.00 L450.52,322.90 L451.50,323.77" stroke="#9a4cf0" stroke-width="1.0"/>
<rect x="253.80" y="333.10" width="3.6" height="3.6" fill="#f01818"/>
<rect x="263.59" y="326.90" width="3.6" height="3.6" fill="#f01818"/>
<rect x="273.39" y="312.80" width="3.6" height="3.6" fill="#f01818"/>
<rect x="283.19" y="294.90" width="3.6" height="3.6" fill="#f01818"/>
<rect x="292.98" y="279.40" width="3.6" height="3.6" fill="#f01818"/>
<rect x="302.77" y="267.50" width="3.6" height="3.6" fill="#f01818"/>
<rect x="312.57" y="256.80" width="3.6" height="3.6" fill="#f01818"/>
<rect x="322.36" y="233.60" width="3.6" height="3.6" fill="#f01818"/>
<rect x="332.16" y="217.80" width="3.6" height="3.6" fill="#f01818"/>
<rect x="341.95" y="211.90" width="3.6" height="3.6" fill="#f01818"/>
<rect x="351.75" y="219.80" width="3.6" height="3.6" fill="#f01818"/>
<rect x="361.55" y="225.70" width="3.6" height="3.6" fill="#f01818"/>
<rect x="371.34" y="232.60" width="3.6" height="3.6" fill="#f01818"/>
<rect x="381.13" y="243.70" width="3.6" height="3.6" fill="#f01818"/>
<rect x="390.93" y="257.40" width="3.6" height="3.6" fill="#f01818"/>
<rect x="400.72" y="262.10" width="3.6" height="3.6" fill="#f01818"/>
<rect x="410.52" y="273.10" width="3.6" height="3.6" fill="#f01818"/>
<rect x="420.31" y="284.50" width="3.6" height="3.6" fill="#f01818"/>
<rect x="430.11" y="297.90" width="3.6" height="3.6" fill="#f01818"/>
<rect x="439.90" y="309.80" width="3.6" height="3.6" fill="#f01818"/>
<rect x="449.70" y="325.40" width="3.6" height="3.6" fill="#f01818"/>
</g>
<path d="M289.80,332.50 L289.80,274.70" stroke="#333" stroke-width="0.9"/>
<path d="M288.30,275.70 L289.80,271.70 L291.30,275.70 L289.80,275.00 Z" fill="#111"/>
<path d="M343.20,254.20 L343.20,213.70" stroke="#333" stroke-width="0.9"/>
<path d="M341.70,214.70 L343.20,210.70 L344.70,214.70 L343.20,214.00 Z" fill="#111"/>
<path d="M409.70,307.20 L409.70,267.80" stroke="#333" stroke-width="0.9"/>
<path d="M408.20,268.80 L409.70,264.80 L411.20,268.80 L409.70,268.10 Z" fill="#111"/>
<rect x="255.6" y="188.4" width="195.9" height="162.29999999999998" fill="none" stroke="#636363" stroke-width="1.4"/>
<path d="M252.30,350.70 L255.60,350.70 M252.30,333.62 L255.60,333.62 M252.30,316.53 L255.60,316.53 M252.30,299.45 L255.60,299.45 M252.30,282.36 L255.60,282.36 M252.30,265.28 L255.60,265.28 M252.30,248.19 L255.60,248.19 M252.30,231.11 L255.60,231.11 M252.30,214.03 L255.60,214.03 M252.30,196.94 L255.60,196.94 M254.00,342.16 L255.60,342.16 M254.00,325.07 L255.60,325.07 M254.00,307.99 L255.60,307.99 M254.00,290.91 L255.60,290.91 M254.00,273.82 L255.60,273.82 M254.00,256.74 L255.60,256.74 M254.00,239.65 L255.60,239.65 M254.00,222.57 L255.60,222.57 M254.00,205.48 L255.60,205.48 M255.60,350.70 L255.60,354.00 M304.57,350.70 L304.57,354.00 M353.55,350.70 L353.55,354.00 M402.52,350.70 L402.52,354.00 M451.50,350.70 L451.50,354.00 M280.09,350.70 L280.09,352.30 M329.06,350.70 L329.06,352.30 M378.04,350.70 L378.04,352.30 M427.01,350.70 L427.01,352.30" stroke="#4a4a4a" stroke-width="0.9" fill="none"/>
<text x="251.1" y="353.0" font-size="6.6" text-anchor="end" fill="#222">0.2</text>
<text x="251.1" y="335.9" font-size="6.6" text-anchor="end" fill="#222">0.3</text>
<text x="251.1" y="318.8" font-size="6.6" text-anchor="end" fill="#222">0.4</text>
<text x="251.1" y="301.7" font-size="6.6" text-anchor="end" fill="#222">0.5</text>
<text x="251.1" y="284.7" font-size="6.6" text-anchor="end" fill="#222">0.6</text>
<text x="251.1" y="267.6" font-size="6.6" text-anchor="end" fill="#222">0.7</text>
<text x="251.1" y="250.5" font-size="6.6" text-anchor="end" fill="#222">0.8</text>
<text x="251.1" y="233.4" font-size="6.6" text-anchor="end" fill="#222">0.9</text>
<text x="251.1" y="216.3" font-size="6.6" text-anchor="end" fill="#222">1.0</text>
<text x="251.1" y="199.2" font-size="6.6" text-anchor="end" fill="#222">1.1</text>
<text x="255.6" y="360.6" font-size="6.6" text-anchor="middle" fill="#222">465</text>
<text x="304.6" y="360.6" font-size="6.6" text-anchor="middle" fill="#222">470</text>
<text x="353.6" y="360.6" font-size="6.6" text-anchor="middle" fill="#222">475</text>
<text x="402.5" y="360.6" font-size="6.6" text-anchor="middle" fill="#222">480</text>
<text x="451.5" y="360.6" font-size="6.6" text-anchor="middle" fill="#222">485</text>
<text x="353.8" y="372.7" font-size="8.2" text-anchor="middle" fill="#111" textLength="51.5" lengthAdjust="spacingAndGlyphs">Wavelength (nm)</text>
<text transform="translate(236.1,276.6) rotate(-90)" font-size="8.2" text-anchor="middle" fill="#111" textLength="65.5" lengthAdjust="spacingAndGlyphs">Normalized Intensity</text>
<text x="261.8" y="196.6" font-size="7.6" fill="#111">d)</text>
<text x="324.80" y="199.70" font-size="7.3" fill="#111" text-anchor="start" textLength="7.28" lengthAdjust="spacingAndGlyphs">Zn</text><text x="332.48" y="201.20" font-size="5.0" fill="#111" text-anchor="start">i</text><text x="333.26" y="197.50" font-size="5.0" fill="#111" text-anchor="start">+</text><path d="M335.63,197.70 L340.52,197.70" stroke="#111" stroke-width="0.6"/><path d="M339.92,196.50 L342.12,197.70 L339.92,198.90 Z" fill="#111"/><text x="342.91" y="197.50" font-size="5.0" fill="#111" text-anchor="start">3</text><text x="345.67" y="199.70" font-size="7.3" fill="#111" text-anchor="start" textLength="3.94" lengthAdjust="spacingAndGlyphs">P</text><text x="349.51" y="201.20" font-size="5.0" fill="#111" text-anchor="start">J</text><text x="351.38" y="199.70" font-size="7.3" fill="#111" text-anchor="start" textLength="11.02" lengthAdjust="spacingAndGlyphs">(O)</text>
<text x="322.80" y="209.10" font-size="7.3" fill="#111" text-anchor="start" textLength="44.10" lengthAdjust="spacingAndGlyphs">474 nm (2.62 eV)</text>
<text x="266.90" y="255.00" font-size="7.3" fill="#111" text-anchor="start" textLength="6.99" lengthAdjust="spacingAndGlyphs">Zn</text><text x="274.14" y="256.50" font-size="5.0" fill="#111" text-anchor="start">i</text><text x="274.94" y="252.80" font-size="5.0" fill="#111" text-anchor="start">+</text><path d="M278.13,253.00 L283.52,253.00" stroke="#111" stroke-width="0.6"/><path d="M282.92,251.80 L285.12,253.00 L282.92,254.20 Z" fill="#111"/><text x="286.12" y="255.00" font-size="7.3" fill="#111" text-anchor="start" textLength="4.59" lengthAdjust="spacingAndGlyphs">V</text><text x="290.91" y="256.50" font-size="5.0" fill="#111" text-anchor="start" textLength="4.39" lengthAdjust="spacingAndGlyphs">Zn</text><text x="291.41" y="252.30" font-size="5.0" fill="#111" text-anchor="start">0</text>
<text x="261.30" y="267.10" font-size="7.3" fill="#111" text-anchor="start" textLength="43.80" lengthAdjust="spacingAndGlyphs">468 nm (2.65 eV)</text>
<text x="399.20" y="245.90" font-size="7.3" fill="#111" text-anchor="start" textLength="7.28" lengthAdjust="spacingAndGlyphs">Zn</text><text x="406.74" y="247.40" font-size="5.0" fill="#111" text-anchor="start">i</text><text x="407.58" y="243.70" font-size="5.0" fill="#111" text-anchor="start">+</text><path d="M410.90,243.90 L416.59,243.90" stroke="#111" stroke-width="0.6"/><path d="M415.99,242.70 L418.19,243.90 L415.99,245.10 Z" fill="#111"/><text x="419.23" y="245.90" font-size="7.3" fill="#111" text-anchor="start" textLength="4.79" lengthAdjust="spacingAndGlyphs">V</text><text x="424.22" y="247.40" font-size="5.0" fill="#111" text-anchor="start" textLength="4.58" lengthAdjust="spacingAndGlyphs">Zn</text><text x="424.74" y="243.20" font-size="5.0" fill="#111" text-anchor="start">0</text>
<text x="396.60" y="255.80" font-size="7.3" fill="#111" text-anchor="start" textLength="43.40" lengthAdjust="spacingAndGlyphs">481 nm (2.58 eV)</text>
<text x="382.80" y="196.30" font-size="7.5" fill="#111" text-anchor="start" textLength="44.90" lengthAdjust="spacingAndGlyphs">Goodness of fit (R</text><text x="427.80" y="193.00" font-size="5.0" fill="#111" text-anchor="start">2</text><text x="429.39" y="196.30" font-size="7.5" fill="#111" text-anchor="start" textLength="19.51" lengthAdjust="spacingAndGlyphs">) = 0.99</text>
<text x="386.80" y="205.70" font-size="7.5" fill="#111" text-anchor="start" textLength="8.80" lengthAdjust="spacingAndGlyphs">500</text><text x="396.77" y="205.10" font-size="6.0" fill="#111" text-anchor="start">°</text><text x="398.14" y="205.70" font-size="7.5" fill="#111" text-anchor="start" textLength="48.76" lengthAdjust="spacingAndGlyphs">C, 60 min, Vacuum</text>
<text x="386.80" y="214.00" font-size="7.3" fill="#111" text-anchor="start" textLength="7.20" lengthAdjust="spacingAndGlyphs">Zn</text><text x="394.00" y="215.30" font-size="5.0" fill="#111" text-anchor="start" textLength="9.02" lengthAdjust="spacingAndGlyphs">0.99</text><text x="403.02" y="214.00" font-size="7.3" fill="#111" text-anchor="start" textLength="6.69" lengthAdjust="spacingAndGlyphs">Ga</text><text x="409.70" y="215.30" font-size="5.0" fill="#111" text-anchor="start" textLength="8.82" lengthAdjust="spacingAndGlyphs">0.01</text><text x="418.83" y="214.00" font-size="7.3" fill="#111" text-anchor="start" textLength="13.48" lengthAdjust="spacingAndGlyphs">O:Zn</text><text x="432.31" y="215.30" font-size="5.0" fill="#111" text-anchor="start">i</text><text x="432.71" y="212.40" font-size="5.0" fill="#111" text-anchor="start" textLength="5.27" lengthAdjust="spacingAndGlyphs">2+</text>
<text x="388.30" y="224.90" font-size="7.5" fill="#111" text-anchor="start" textLength="31.00" lengthAdjust="spacingAndGlyphs">y = 0.5 at%</text>
</svg>
</body></html>
